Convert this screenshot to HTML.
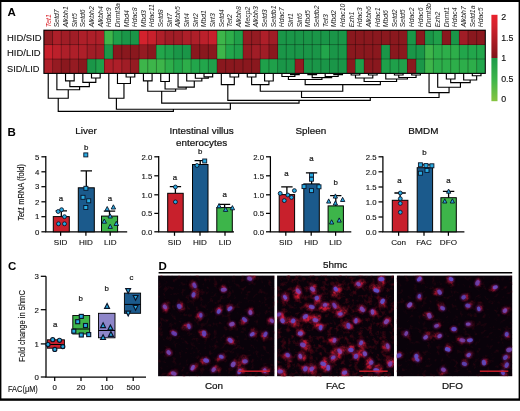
<!DOCTYPE html>
<html><head><meta charset="utf-8"><title>Figure</title>
<style>
html,body{margin:0;padding:0;background:#fff;}
body{width:520px;height:411px;overflow:hidden;}
svg{display:block;font-family:"Liberation Sans", sans-serif;filter:blur(0.3px);}
text{fill:#1a1a1a;}
.g{font-style:italic;font-size:6.9px;fill:#262626;}
.row{font-size:9.3px;fill:#111;stroke:#111;stroke-width:0.12px;}
.pl{font-size:11.5px;font-weight:bold;fill:#000;}
.tt{font-size:9.9px;fill:#111;stroke:#111;stroke-width:0.22px;}
.tk{font-size:7.8px;fill:#111;stroke:#111;stroke-width:0.12px;}
.xl{font-size:8.1px;fill:#111;stroke:#111;stroke-width:0.12px;}
.lt{font-size:7.9px;fill:#1a1a1a;stroke:#1a1a1a;stroke-width:0.22px;}
.cb{font-size:8.8px;fill:#111;stroke:#111;stroke-width:0.15px;}
.ax{stroke:#000;stroke-width:1.25;fill:none;}
.dn{stroke:#000;stroke-width:1.15;fill:none;}
</style></head><body>
<svg width="520" height="411" viewBox="0 0 520 411">
<rect x="0" y="0" width="520" height="411" fill="#fff"/>

<rect x="0" y="0" width="520" height="2" fill="#000"/>
<rect x="0" y="0" width="1.4" height="400" fill="#000"/>
<rect x="518.6" y="0" width="1.4" height="400" fill="#000"/>
<rect x="0" y="398.4" width="520" height="2.4" fill="#000"/>
<text class="pl" x="7.5" y="16.3">A</text>
<g shape-rendering="crispEdges">
<rect x="43.90" y="30.20" width="8.71" height="14.45" fill="#951B22"/>
<rect x="52.55" y="30.20" width="8.71" height="14.45" fill="#AE1F29"/>
<rect x="61.21" y="30.20" width="8.71" height="14.45" fill="#A01D26"/>
<rect x="69.86" y="30.20" width="8.71" height="14.45" fill="#A01D26"/>
<rect x="78.52" y="30.20" width="8.71" height="14.45" fill="#AE1F29"/>
<rect x="87.17" y="30.20" width="8.71" height="14.45" fill="#AE1F29"/>
<rect x="95.83" y="30.20" width="8.71" height="14.45" fill="#AE1F29"/>
<rect x="104.48" y="30.20" width="8.71" height="14.45" fill="#3DB54A"/>
<rect x="113.14" y="30.20" width="8.71" height="14.45" fill="#1FA04A"/>
<rect x="121.79" y="30.20" width="8.71" height="14.45" fill="#1A9648"/>
<rect x="130.45" y="30.20" width="8.71" height="14.45" fill="#1A9648"/>
<rect x="139.10" y="30.20" width="8.71" height="14.45" fill="#D3222D"/>
<rect x="147.76" y="30.20" width="8.71" height="14.45" fill="#C8202C"/>
<rect x="156.41" y="30.20" width="8.71" height="14.45" fill="#AE1F29"/>
<rect x="165.07" y="30.20" width="8.71" height="14.45" fill="#A01D26"/>
<rect x="173.72" y="30.20" width="8.71" height="14.45" fill="#A01D26"/>
<rect x="182.38" y="30.20" width="8.71" height="14.45" fill="#AE1F29"/>
<rect x="191.03" y="30.20" width="8.71" height="14.45" fill="#AE1F29"/>
<rect x="199.69" y="30.20" width="8.71" height="14.45" fill="#BC202B"/>
<rect x="208.34" y="30.20" width="8.71" height="14.45" fill="#C8202C"/>
<rect x="217.00" y="30.20" width="8.71" height="14.45" fill="#3DB54A"/>
<rect x="225.66" y="30.20" width="8.71" height="14.45" fill="#2DAE4A"/>
<rect x="234.31" y="30.20" width="8.71" height="14.45" fill="#1FA04A"/>
<rect x="242.97" y="30.20" width="8.71" height="14.45" fill="#951B22"/>
<rect x="251.62" y="30.20" width="8.71" height="14.45" fill="#951B22"/>
<rect x="260.27" y="30.20" width="8.71" height="14.45" fill="#AE1F29"/>
<rect x="268.93" y="30.20" width="8.71" height="14.45" fill="#A01D26"/>
<rect x="277.58" y="30.20" width="8.71" height="14.45" fill="#1A9648"/>
<rect x="286.24" y="30.20" width="8.71" height="14.45" fill="#1A9648"/>
<rect x="294.89" y="30.20" width="8.71" height="14.45" fill="#1A9648"/>
<rect x="303.55" y="30.20" width="8.71" height="14.45" fill="#1A9648"/>
<rect x="312.20" y="30.20" width="8.71" height="14.45" fill="#1A9648"/>
<rect x="320.86" y="30.20" width="8.71" height="14.45" fill="#1A9648"/>
<rect x="329.51" y="30.20" width="8.71" height="14.45" fill="#1A9648"/>
<rect x="338.17" y="30.20" width="8.71" height="14.45" fill="#1A9648"/>
<rect x="346.82" y="30.20" width="8.71" height="14.45" fill="#8A181E"/>
<rect x="355.48" y="30.20" width="8.71" height="14.45" fill="#8A181E"/>
<rect x="364.13" y="30.20" width="8.71" height="14.45" fill="#8A181E"/>
<rect x="372.79" y="30.20" width="8.71" height="14.45" fill="#8A181E"/>
<rect x="381.44" y="30.20" width="8.71" height="14.45" fill="#8A181E"/>
<rect x="390.10" y="30.20" width="8.71" height="14.45" fill="#8A181E"/>
<rect x="398.75" y="30.20" width="8.71" height="14.45" fill="#8A181E"/>
<rect x="407.41" y="30.20" width="8.71" height="14.45" fill="#1A9648"/>
<rect x="416.06" y="30.20" width="8.71" height="14.45" fill="#8A181E"/>
<rect x="424.72" y="30.20" width="8.71" height="14.45" fill="#1A9648"/>
<rect x="433.37" y="30.20" width="8.71" height="14.45" fill="#1FA04A"/>
<rect x="442.03" y="30.20" width="8.71" height="14.45" fill="#8A181E"/>
<rect x="450.68" y="30.20" width="8.71" height="14.45" fill="#1A9648"/>
<rect x="459.34" y="30.20" width="8.71" height="14.45" fill="#A01D26"/>
<rect x="467.99" y="30.20" width="8.71" height="14.45" fill="#8A181E"/>
<rect x="476.65" y="30.20" width="8.71" height="14.45" fill="#8A181E"/>
<rect x="43.90" y="44.60" width="8.71" height="14.45" fill="#C8202C"/>
<rect x="52.55" y="44.60" width="8.71" height="14.45" fill="#BC202B"/>
<rect x="61.21" y="44.60" width="8.71" height="14.45" fill="#AE1F29"/>
<rect x="69.86" y="44.60" width="8.71" height="14.45" fill="#AE1F29"/>
<rect x="78.52" y="44.60" width="8.71" height="14.45" fill="#AE1F29"/>
<rect x="87.17" y="44.60" width="8.71" height="14.45" fill="#A01D26"/>
<rect x="95.83" y="44.60" width="8.71" height="14.45" fill="#A01D26"/>
<rect x="104.48" y="44.60" width="8.71" height="14.45" fill="#1A9648"/>
<rect x="113.14" y="44.60" width="8.71" height="14.45" fill="#8A181E"/>
<rect x="121.79" y="44.60" width="8.71" height="14.45" fill="#8A181E"/>
<rect x="130.45" y="44.60" width="8.71" height="14.45" fill="#8A181E"/>
<rect x="139.10" y="44.60" width="8.71" height="14.45" fill="#951B22"/>
<rect x="147.76" y="44.60" width="8.71" height="14.45" fill="#8A181E"/>
<rect x="156.41" y="44.60" width="8.71" height="14.45" fill="#22A64B"/>
<rect x="165.07" y="44.60" width="8.71" height="14.45" fill="#1FA04A"/>
<rect x="173.72" y="44.60" width="8.71" height="14.45" fill="#1A9648"/>
<rect x="182.38" y="44.60" width="8.71" height="14.45" fill="#1A9648"/>
<rect x="191.03" y="44.60" width="8.71" height="14.45" fill="#8A181E"/>
<rect x="199.69" y="44.60" width="8.71" height="14.45" fill="#8A181E"/>
<rect x="208.34" y="44.60" width="8.71" height="14.45" fill="#8A181E"/>
<rect x="217.00" y="44.60" width="8.71" height="14.45" fill="#3DB54A"/>
<rect x="225.66" y="44.60" width="8.71" height="14.45" fill="#22A64B"/>
<rect x="234.31" y="44.60" width="8.71" height="14.45" fill="#1FA04A"/>
<rect x="242.97" y="44.60" width="8.71" height="14.45" fill="#951B22"/>
<rect x="251.62" y="44.60" width="8.71" height="14.45" fill="#A01D26"/>
<rect x="260.27" y="44.60" width="8.71" height="14.45" fill="#A01D26"/>
<rect x="268.93" y="44.60" width="8.71" height="14.45" fill="#8A181E"/>
<rect x="277.58" y="44.60" width="8.71" height="14.45" fill="#1A9648"/>
<rect x="286.24" y="44.60" width="8.71" height="14.45" fill="#1A9648"/>
<rect x="294.89" y="44.60" width="8.71" height="14.45" fill="#1A9648"/>
<rect x="303.55" y="44.60" width="8.71" height="14.45" fill="#1A9648"/>
<rect x="312.20" y="44.60" width="8.71" height="14.45" fill="#1A9648"/>
<rect x="320.86" y="44.60" width="8.71" height="14.45" fill="#22A64B"/>
<rect x="329.51" y="44.60" width="8.71" height="14.45" fill="#1A9648"/>
<rect x="338.17" y="44.60" width="8.71" height="14.45" fill="#1A9648"/>
<rect x="346.82" y="44.60" width="8.71" height="14.45" fill="#8A181E"/>
<rect x="355.48" y="44.60" width="8.71" height="14.45" fill="#8A181E"/>
<rect x="364.13" y="44.60" width="8.71" height="14.45" fill="#8A181E"/>
<rect x="372.79" y="44.60" width="8.71" height="14.45" fill="#8A181E"/>
<rect x="381.44" y="44.60" width="8.71" height="14.45" fill="#1A9648"/>
<rect x="390.10" y="44.60" width="8.71" height="14.45" fill="#8A181E"/>
<rect x="398.75" y="44.60" width="8.71" height="14.45" fill="#8A181E"/>
<rect x="407.41" y="44.60" width="8.71" height="14.45" fill="#1A9648"/>
<rect x="416.06" y="44.60" width="8.71" height="14.45" fill="#1A9648"/>
<rect x="424.72" y="44.60" width="8.71" height="14.45" fill="#3DB54A"/>
<rect x="433.37" y="44.60" width="8.71" height="14.45" fill="#2DAE4A"/>
<rect x="442.03" y="44.60" width="8.71" height="14.45" fill="#2DAE4A"/>
<rect x="450.68" y="44.60" width="8.71" height="14.45" fill="#2DAE4A"/>
<rect x="459.34" y="44.60" width="8.71" height="14.45" fill="#22A64B"/>
<rect x="467.99" y="44.60" width="8.71" height="14.45" fill="#22A64B"/>
<rect x="476.65" y="44.60" width="8.71" height="14.45" fill="#22A64B"/>
<rect x="43.90" y="59.00" width="8.71" height="14.45" fill="#AE1F29"/>
<rect x="52.55" y="59.00" width="8.71" height="14.45" fill="#951B22"/>
<rect x="61.21" y="59.00" width="8.71" height="14.45" fill="#8A181E"/>
<rect x="69.86" y="59.00" width="8.71" height="14.45" fill="#951B22"/>
<rect x="78.52" y="59.00" width="8.71" height="14.45" fill="#8A181E"/>
<rect x="87.17" y="59.00" width="8.71" height="14.45" fill="#1A9648"/>
<rect x="95.83" y="59.00" width="8.71" height="14.45" fill="#1FA04A"/>
<rect x="104.48" y="59.00" width="8.71" height="14.45" fill="#AE1F29"/>
<rect x="113.14" y="59.00" width="8.71" height="14.45" fill="#AE1F29"/>
<rect x="121.79" y="59.00" width="8.71" height="14.45" fill="#A01D26"/>
<rect x="130.45" y="59.00" width="8.71" height="14.45" fill="#951B22"/>
<rect x="139.10" y="59.00" width="8.71" height="14.45" fill="#3DB54A"/>
<rect x="147.76" y="59.00" width="8.71" height="14.45" fill="#3DB54A"/>
<rect x="156.41" y="59.00" width="8.71" height="14.45" fill="#3DB54A"/>
<rect x="165.07" y="59.00" width="8.71" height="14.45" fill="#2DAE4A"/>
<rect x="173.72" y="59.00" width="8.71" height="14.45" fill="#22A64B"/>
<rect x="182.38" y="59.00" width="8.71" height="14.45" fill="#2DAE4A"/>
<rect x="191.03" y="59.00" width="8.71" height="14.45" fill="#22A64B"/>
<rect x="199.69" y="59.00" width="8.71" height="14.45" fill="#22A64B"/>
<rect x="208.34" y="59.00" width="8.71" height="14.45" fill="#1FA04A"/>
<rect x="217.00" y="59.00" width="8.71" height="14.45" fill="#8A181E"/>
<rect x="225.66" y="59.00" width="8.71" height="14.45" fill="#8A181E"/>
<rect x="234.31" y="59.00" width="8.71" height="14.45" fill="#8A181E"/>
<rect x="242.97" y="59.00" width="8.71" height="14.45" fill="#8A181E"/>
<rect x="251.62" y="59.00" width="8.71" height="14.45" fill="#8A181E"/>
<rect x="260.27" y="59.00" width="8.71" height="14.45" fill="#1FA04A"/>
<rect x="268.93" y="59.00" width="8.71" height="14.45" fill="#1FA04A"/>
<rect x="277.58" y="59.00" width="8.71" height="14.45" fill="#1A9648"/>
<rect x="286.24" y="59.00" width="8.71" height="14.45" fill="#1A9648"/>
<rect x="294.89" y="59.00" width="8.71" height="14.45" fill="#951B22"/>
<rect x="303.55" y="59.00" width="8.71" height="14.45" fill="#1A9648"/>
<rect x="312.20" y="59.00" width="8.71" height="14.45" fill="#1A9648"/>
<rect x="320.86" y="59.00" width="8.71" height="14.45" fill="#1A9648"/>
<rect x="329.51" y="59.00" width="8.71" height="14.45" fill="#1A9648"/>
<rect x="338.17" y="59.00" width="8.71" height="14.45" fill="#1A9648"/>
<rect x="346.82" y="59.00" width="8.71" height="14.45" fill="#8A181E"/>
<rect x="355.48" y="59.00" width="8.71" height="14.45" fill="#1FA04A"/>
<rect x="364.13" y="59.00" width="8.71" height="14.45" fill="#8A181E"/>
<rect x="372.79" y="59.00" width="8.71" height="14.45" fill="#8A181E"/>
<rect x="381.44" y="59.00" width="8.71" height="14.45" fill="#1FA04A"/>
<rect x="390.10" y="59.00" width="8.71" height="14.45" fill="#1FA04A"/>
<rect x="398.75" y="59.00" width="8.71" height="14.45" fill="#1FA04A"/>
<rect x="407.41" y="59.00" width="8.71" height="14.45" fill="#8A181E"/>
<rect x="416.06" y="59.00" width="8.71" height="14.45" fill="#1A9648"/>
<rect x="424.72" y="59.00" width="8.71" height="14.45" fill="#3DB54A"/>
<rect x="433.37" y="59.00" width="8.71" height="14.45" fill="#2DAE4A"/>
<rect x="442.03" y="59.00" width="8.71" height="14.45" fill="#2DAE4A"/>
<rect x="450.68" y="59.00" width="8.71" height="14.45" fill="#2DAE4A"/>
<rect x="459.34" y="59.00" width="8.71" height="14.45" fill="#2DAE4A"/>
<rect x="467.99" y="59.00" width="8.71" height="14.45" fill="#2DAE4A"/>
<rect x="476.65" y="59.00" width="8.71" height="14.45" fill="#22A64B"/>
</g>
<path d="M52.55 30.2V73.40M61.21 30.2V73.40M69.86 30.2V73.40M78.52 30.2V73.40M87.17 30.2V73.40M95.83 30.2V73.40M104.48 30.2V73.40M113.14 30.2V73.40M121.79 30.2V73.40M130.45 30.2V73.40M139.10 30.2V73.40M147.76 30.2V73.40M156.41 30.2V73.40M165.07 30.2V73.40M173.72 30.2V73.40M182.38 30.2V73.40M191.03 30.2V73.40M199.69 30.2V73.40M208.34 30.2V73.40M217.00 30.2V73.40M225.66 30.2V73.40M234.31 30.2V73.40M242.97 30.2V73.40M251.62 30.2V73.40M260.27 30.2V73.40M268.93 30.2V73.40M277.58 30.2V73.40M286.24 30.2V73.40M294.89 30.2V73.40M303.55 30.2V73.40M312.20 30.2V73.40M320.86 30.2V73.40M329.51 30.2V73.40M338.17 30.2V73.40M346.82 30.2V73.40M355.48 30.2V73.40M364.13 30.2V73.40M372.79 30.2V73.40M381.44 30.2V73.40M390.10 30.2V73.40M398.75 30.2V73.40M407.41 30.2V73.40M416.06 30.2V73.40M424.72 30.2V73.40M433.37 30.2V73.40M442.03 30.2V73.40M450.68 30.2V73.40M459.34 30.2V73.40M467.99 30.2V73.40M476.65 30.2V73.40M43.9 44.60H485.30M43.9 59.00H485.30" stroke="#000" stroke-opacity="0.45" stroke-width="0.7" fill="none"/>
<rect x="43.9" y="30.2" width="441.40" height="43.20" fill="none" stroke="#000" stroke-width="1.1"/>
<text class="g" transform="translate(50.63 27.3) rotate(-90)" style="fill:#d8232a">Tet1</text>
<text class="g" transform="translate(59.28 27.3) rotate(-90)">Setd7</text>
<text class="g" transform="translate(67.94 27.3) rotate(-90)">Alkbh1</text>
<text class="g" transform="translate(76.59 27.3) rotate(-90)">Sirt5</text>
<text class="g" transform="translate(85.25 27.3) rotate(-90)">Setd6</text>
<text class="g" transform="translate(93.90 27.3) rotate(-90)">Alkbh2</text>
<text class="g" transform="translate(102.56 27.3) rotate(-90)">Alkbh4</text>
<text class="g" transform="translate(111.21 27.3) rotate(-90)">Hdac9</text>
<text class="g" transform="translate(119.87 27.3) rotate(-90)">Dnmt3a</text>
<text class="g" transform="translate(128.52 27.3) rotate(-90)">Mbd4</text>
<text class="g" transform="translate(137.18 27.3) rotate(-90)">Hdac8</text>
<text class="g" transform="translate(145.83 27.3) rotate(-90)">Mbd3</text>
<text class="g" transform="translate(154.49 27.3) rotate(-90)">Hdac11</text>
<text class="g" transform="translate(163.14 27.3) rotate(-90)">Setd8</text>
<text class="g" transform="translate(171.80 27.3) rotate(-90)">Sirt7</text>
<text class="g" transform="translate(180.45 27.3) rotate(-90)">Alkbh5</text>
<text class="g" transform="translate(189.11 27.3) rotate(-90)">Sirt4</text>
<text class="g" transform="translate(197.76 27.3) rotate(-90)">Sirt2</text>
<text class="g" transform="translate(206.42 27.3) rotate(-90)">Mbd1</text>
<text class="g" transform="translate(215.07 27.3) rotate(-90)">Sirt3</text>
<text class="g" transform="translate(223.73 27.3) rotate(-90)">Setd4</text>
<text class="g" transform="translate(232.38 27.3) rotate(-90)">Tet2</text>
<text class="g" transform="translate(241.04 27.3) rotate(-90)">Alkbh8</text>
<text class="g" transform="translate(249.69 27.3) rotate(-90)">Mecp2</text>
<text class="g" transform="translate(258.35 27.3) rotate(-90)">Alkbh3</text>
<text class="g" transform="translate(267.00 27.3) rotate(-90)">Setd3</text>
<text class="g" transform="translate(275.66 27.3) rotate(-90)">Setdb1</text>
<text class="g" transform="translate(284.31 27.3) rotate(-90)">Hdac7</text>
<text class="g" transform="translate(292.97 27.3) rotate(-90)">Sirt1</text>
<text class="g" transform="translate(301.62 27.3) rotate(-90)">Sirt6</text>
<text class="g" transform="translate(310.28 27.3) rotate(-90)">Mbd5</text>
<text class="g" transform="translate(318.93 27.3) rotate(-90)">Setdb2</text>
<text class="g" transform="translate(327.59 27.3) rotate(-90)">Tet3</text>
<text class="g" transform="translate(336.24 27.3) rotate(-90)">Mbd2</text>
<text class="g" transform="translate(344.90 27.3) rotate(-90)">Hdac10</text>
<text class="g" transform="translate(353.55 27.3) rotate(-90)">Ezh1</text>
<text class="g" transform="translate(362.21 27.3) rotate(-90)">Hdac3</text>
<text class="g" transform="translate(370.86 27.3) rotate(-90)">Alkbh6</text>
<text class="g" transform="translate(379.52 27.3) rotate(-90)">Hdac1</text>
<text class="g" transform="translate(388.17 27.3) rotate(-90)">Mbd6</text>
<text class="g" transform="translate(396.83 27.3) rotate(-90)">Setd2</text>
<text class="g" transform="translate(405.48 27.3) rotate(-90)">Setd5</text>
<text class="g" transform="translate(414.14 27.3) rotate(-90)">Hdac2</text>
<text class="g" transform="translate(422.79 27.3) rotate(-90)">Hdac6</text>
<text class="g" transform="translate(431.45 27.3) rotate(-90)">Dnmt3b</text>
<text class="g" transform="translate(440.10 27.3) rotate(-90)">Ezh2</text>
<text class="g" transform="translate(448.76 27.3) rotate(-90)">Dnmt1</text>
<text class="g" transform="translate(457.41 27.3) rotate(-90)">Hdac4</text>
<text class="g" transform="translate(466.07 27.3) rotate(-90)">Alkbh7</text>
<text class="g" transform="translate(474.72 27.3) rotate(-90)">Setd1a</text>
<text class="g" transform="translate(483.38 27.3) rotate(-90)">Hdac5</text>
<text class="row" x="7" y="40.8" textLength="34.6" lengthAdjust="spacingAndGlyphs">HID/SID</text>
<text class="row" x="7" y="56.4" textLength="33.6" lengthAdjust="spacingAndGlyphs">HID/LID</text>
<text class="row" x="7" y="72.2" textLength="32.4" lengthAdjust="spacingAndGlyphs">SID/LID</text>
<defs><linearGradient id="cbr" x1="0" y1="0" x2="0" y2="1"><stop offset="0" stop-color="#EA212C"/><stop offset="0.25" stop-color="#D3222D"/><stop offset="1" stop-color="#7E151A"/></linearGradient>
<linearGradient id="cbg" x1="0" y1="0" x2="0" y2="1"><stop offset="0" stop-color="#1C9A49"/><stop offset="0.5" stop-color="#3DB54A"/><stop offset="1" stop-color="#86C440"/></linearGradient></defs>
<rect x="491.4" y="14.8" width="6.1" height="43.2" fill="url(#cbr)"/>
<rect x="491.4" y="58" width="6.1" height="43.2" fill="url(#cbg)"/>
<text class="cb" x="501.2" y="20.3">2</text>
<text class="cb" x="501.2" y="40.8">1.5</text>
<text class="cb" x="501.2" y="61.0">1</text>
<text class="cb" x="501.2" y="81.7">0.5</text>
<text class="cb" x="501.2" y="102.3">0</text>
<path class="dn" d="M65.54 73.40V80.80H74.19V73.40M91.50 73.40V78.00H100.16V73.40M82.85 73.40V82.30H95.83V78.00M69.86 80.80V86.60H89.34V82.30M56.88 73.40V89.70H79.60V86.60M48.23 73.40V98.20H68.24V89.70M126.12 73.40V77.00H134.78V73.40M117.47 73.40V83.50H130.45V77.00M108.81 73.40V98.20H123.96V83.50M143.43 73.40V80.80H152.09V73.40M160.74 73.40V81.50H169.40V73.40M204.02 73.40V76.90H212.67V73.40M195.36 73.40V78.20H208.34V76.90M186.71 73.40V81.00H201.85V78.20M178.05 73.40V87.10H194.28V81.00M165.07 81.50V89.00H186.17V87.10M147.76 80.80V91.20H175.62V89.00M229.98 73.40V77.00H238.64V73.40M221.33 73.40V84.60H234.31V77.00M247.29 73.40V77.00H255.95V73.40M264.60 73.40V81.00H273.26V73.40M251.62 77.00V84.60H268.93V81.00M290.57 73.40V74.60H299.22V73.40M281.91 73.40V76.50H294.89V74.60M307.88 73.40V74.60H316.53V73.40M333.84 73.40V74.60H342.50V73.40M325.19 73.40V76.50H338.17V74.60M312.20 74.60V77.60H331.68V76.50M288.40 76.50V79.50H321.94V77.60M351.15 73.40V75.00H359.81V73.40M368.46 73.40V75.00H377.12V73.40M355.48 75.00V78.00H372.79V75.00M394.43 73.40V75.00H403.08V73.40M411.74 73.40V75.00H420.39V73.40M398.75 75.00V77.50H416.06V75.00M385.77 73.40V79.00H407.41V77.50M364.13 78.00V81.50H396.59V79.00M305.17 79.50V84.60H380.36V81.50M260.27 84.60V91.20H342.77V84.60M446.36 73.40V79.00H455.01V73.40M472.32 73.40V75.70H480.98V73.40M463.67 73.40V80.00H476.65V75.70M450.68 79.00V82.60H470.16V80.00M437.70 73.40V87.20H460.42V82.60M429.05 73.40V92.60H449.06V87.20M301.52 91.20V97.50H439.05V92.60M227.82 84.60V100.40H370.29V97.50M161.69 91.20V103.10H299.05V100.40M116.39 98.20V109.20H230.37V103.10M58.23 98.20V111.30H173.38V109.20"/>
<text class="pl" x="7.6" y="135.8">B</text>
<path class="ax" d="M45.8 156V231.8H127.2"/>
<path class="ax" d="M41.4 156.8H45.8"/>
<text class="tk" x="39.4" y="159.55" text-anchor="end">5</text>
<path class="ax" d="M41.4 171.8H45.8"/>
<text class="tk" x="39.4" y="174.55" text-anchor="end">4</text>
<path class="ax" d="M41.4 186.7H45.8"/>
<text class="tk" x="39.4" y="189.45" text-anchor="end">3</text>
<path class="ax" d="M41.4 201.8H45.8"/>
<text class="tk" x="39.4" y="204.55" text-anchor="end">2</text>
<path class="ax" d="M41.4 216.7H45.8"/>
<text class="tk" x="39.4" y="219.45" text-anchor="end">1</text>
<path class="ax" d="M41.4 231.8H45.8"/>
<text class="tk" x="39.4" y="234.55" text-anchor="end">0</text>
<path d="M61.3 216.6V210.9M55.6 210.9H67.0" stroke="#000" stroke-width="1.3" fill="none"/>
<rect x="53.3" y="216.6" width="16.0" height="15.2" fill="#C8202C" stroke="#000" stroke-width="1"/>
<circle cx="58.2" cy="211.5" r="1.95" fill="#29ABE2" stroke="#0a1428" stroke-width="0.9"/><circle cx="61.6" cy="209.7" r="1.95" fill="#29ABE2" stroke="#0a1428" stroke-width="0.9"/><circle cx="64.5" cy="216.7" r="1.95" fill="#29ABE2" stroke="#0a1428" stroke-width="0.9"/><circle cx="58.5" cy="223.8" r="1.95" fill="#29ABE2" stroke="#0a1428" stroke-width="0.9"/><circle cx="64.5" cy="223.8" r="1.95" fill="#29ABE2" stroke="#0a1428" stroke-width="0.9"/>
<text class="lt" x="61.0" y="200.5" text-anchor="middle">a</text>
<path class="ax" d="M60.6 231.8V235.8"/>
<text class="xl" x="60.6" y="245.2" text-anchor="middle">SID</text>
<path d="M86.3 187.8V170.8M80.6 170.8H92.0" stroke="#000" stroke-width="1.3" fill="none"/>
<rect x="78.3" y="187.8" width="16.0" height="44.0" fill="#1B5A8C" stroke="#000" stroke-width="1"/>
<rect x="83.8" y="152.9" width="4.0" height="4.0" fill="#29ABE2" stroke="#0a1428" stroke-width="0.9"/><rect x="83.9" y="186.3" width="4.0" height="4.0" fill="#29ABE2" stroke="#0a1428" stroke-width="0.9"/><rect x="81.0" y="195.3" width="4.0" height="4.0" fill="#29ABE2" stroke="#0a1428" stroke-width="0.9"/><rect x="86.7" y="198.8" width="4.0" height="4.0" fill="#29ABE2" stroke="#0a1428" stroke-width="0.9"/><rect x="83.8" y="205.5" width="4.0" height="4.0" fill="#29ABE2" stroke="#0a1428" stroke-width="0.9"/>
<text class="lt" x="86.1" y="150.0" text-anchor="middle">b</text>
<path class="ax" d="M85.9 231.8V235.8"/>
<text class="xl" x="85.9" y="245.2" text-anchor="middle">HID</text>
<path d="M109.5 216.1V211.2M103.8 211.2H115.2" stroke="#000" stroke-width="1.3" fill="none"/>
<rect x="101.5" y="216.1" width="16.1" height="15.7" fill="#3DB54A" stroke="#000" stroke-width="1"/>
<path d="M107.2 206.5L109.4 210.7H105.0Z" fill="#29ABE2" stroke="#0a1428" stroke-width="0.9" stroke-linejoin="miter"/><path d="M113.4 204.8L115.6 209.0H111.2Z" fill="#29ABE2" stroke="#0a1428" stroke-width="0.9" stroke-linejoin="miter"/><path d="M110.2 213.8L112.4 218.0H108.0Z" fill="#29ABE2" stroke="#0a1428" stroke-width="0.9" stroke-linejoin="miter"/><path d="M104.3 219.0L106.5 223.2H102.1Z" fill="#29ABE2" stroke="#0a1428" stroke-width="0.9" stroke-linejoin="miter"/><path d="M116.3 221.3L118.5 225.5H114.1Z" fill="#29ABE2" stroke="#0a1428" stroke-width="0.9" stroke-linejoin="miter"/><path d="M110.2 224.2L112.4 228.4H108.0Z" fill="#29ABE2" stroke="#0a1428" stroke-width="0.9" stroke-linejoin="miter"/>
<text class="lt" x="109.9" y="200.5" text-anchor="middle">a</text>
<path class="ax" d="M110.2 231.8V235.8"/>
<text class="xl" x="110.2" y="245.2" text-anchor="middle">LID</text>
<text class="tt" x="86" y="133.9" text-anchor="middle">Liver</text>
<text class="tk" style="font-size:8.7px" transform="translate(24.4 192.5) rotate(-90) scale(0.86 1)" text-anchor="middle"><tspan font-style="italic">Tet1</tspan> mRNA (fold)</text>
<path class="ax" d="M158.7 156V231.8H234"/>
<path class="ax" d="M154.29999999999998 156.8H158.7"/>
<text class="tk" x="152.29999999999998" y="159.55" text-anchor="end">2.0</text>
<path class="ax" d="M154.29999999999998 175.8H158.7"/>
<text class="tk" x="152.29999999999998" y="178.55" text-anchor="end">1.5</text>
<path class="ax" d="M154.29999999999998 194.8H158.7"/>
<text class="tk" x="152.29999999999998" y="197.55" text-anchor="end">1.0</text>
<path class="ax" d="M154.29999999999998 213.4H158.7"/>
<text class="tk" x="152.29999999999998" y="216.15" text-anchor="end">0.5</text>
<path class="ax" d="M154.29999999999998 231.8H158.7"/>
<text class="tk" x="152.29999999999998" y="234.55" text-anchor="end">0.0</text>
<path d="M175.4 193.3V186.7M169.8 186.7H181.1" stroke="#000" stroke-width="1.3" fill="none"/>
<rect x="167.7" y="193.3" width="15.5" height="38.5" fill="#C8202C" stroke="#000" stroke-width="1"/>
<circle cx="175.4" cy="187.0" r="1.95" fill="#29ABE2" stroke="#0a1428" stroke-width="0.9"/><circle cx="175.4" cy="201.9" r="1.95" fill="#29ABE2" stroke="#0a1428" stroke-width="0.9"/>
<text class="lt" x="175.0" y="180.2" text-anchor="middle">a</text>
<path class="ax" d="M174.5 231.8V235.8"/>
<text class="xl" x="174.5" y="245.2" text-anchor="middle">SID</text>
<path d="M200.2 164.5V160.7M194.6 160.7H205.9" stroke="#000" stroke-width="1.3" fill="none"/>
<rect x="192.5" y="164.5" width="15.5" height="67.3" fill="#1B5A8C" stroke="#000" stroke-width="1"/>
<circle cx="197.0" cy="165.5" r="1.95" fill="#29ABE2" stroke="#0a1428" stroke-width="0.9"/><rect x="202.7" y="159.0" width="4.0" height="4.0" fill="#29ABE2" stroke="#0a1428" stroke-width="0.9"/>
<text class="lt" x="200.1" y="154.0" text-anchor="middle">b</text>
<path class="ax" d="M200 231.8V235.8"/>
<text class="xl" x="200" y="245.2" text-anchor="middle">HID</text>
<path d="M224.6 207.6V204.4M218.9 204.4H230.2" stroke="#000" stroke-width="1.3" fill="none"/>
<rect x="216.8" y="207.6" width="15.5" height="24.2" fill="#3DB54A" stroke="#000" stroke-width="1"/>
<path d="M219.0 203.6L221.2 207.8H216.8Z" fill="#29ABE2" stroke="#0a1428" stroke-width="0.9" stroke-linejoin="miter"/><path d="M225.6 207.2L227.8 211.4H223.4Z" fill="#29ABE2" stroke="#0a1428" stroke-width="0.9" stroke-linejoin="miter"/><path d="M232.4 205.6L234.6 209.8H230.2Z" fill="#29ABE2" stroke="#0a1428" stroke-width="0.9" stroke-linejoin="miter"/>
<text class="lt" x="224.8" y="197.0" text-anchor="middle">a</text>
<path class="ax" d="M225 231.8V235.8"/>
<text class="xl" x="225" y="245.2" text-anchor="middle">LID</text>
<text class="tt" x="201.6" y="133.9" text-anchor="middle">Intestinal villus</text>
<text class="tt" x="201.6" y="145.5" text-anchor="middle">enterocytes</text>
<path class="ax" d="M270.4 156.3V231.8H351.3"/>
<path class="ax" d="M266.0 156.8H270.4"/>
<text class="tk" x="264.0" y="159.55" text-anchor="end">2.0</text>
<path class="ax" d="M266.0 175.8H270.4"/>
<text class="tk" x="264.0" y="178.55" text-anchor="end">1.5</text>
<path class="ax" d="M266.0 194.8H270.4"/>
<text class="tk" x="264.0" y="197.55" text-anchor="end">1.0</text>
<path class="ax" d="M266.0 213.4H270.4"/>
<text class="tk" x="264.0" y="216.15" text-anchor="end">0.5</text>
<path class="ax" d="M266.0 231.8H270.4"/>
<text class="tk" x="264.0" y="234.55" text-anchor="end">0.0</text>
<path d="M286.9 194.6V186.8M281.2 186.8H292.6" stroke="#000" stroke-width="1.3" fill="none"/>
<rect x="279.2" y="194.6" width="15.4" height="37.2" fill="#C8202C" stroke="#000" stroke-width="1"/>
<circle cx="280.2" cy="193.4" r="1.95" fill="#29ABE2" stroke="#0a1428" stroke-width="0.9"/><circle cx="284.3" cy="200.6" r="1.95" fill="#29ABE2" stroke="#0a1428" stroke-width="0.9"/><circle cx="287.8" cy="195.0" r="1.95" fill="#29ABE2" stroke="#0a1428" stroke-width="0.9"/><circle cx="291.5" cy="197.4" r="1.95" fill="#29ABE2" stroke="#0a1428" stroke-width="0.9"/><circle cx="294.4" cy="190.6" r="1.95" fill="#29ABE2" stroke="#0a1428" stroke-width="0.9"/>
<text class="lt" x="286.4" y="176.3" text-anchor="middle">a</text>
<path class="ax" d="M285.8 231.8V235.8"/>
<text class="xl" x="285.8" y="245.2" text-anchor="middle">SID</text>
<path d="M311.6 183.9V172.8M305.9 172.8H317.2" stroke="#000" stroke-width="1.3" fill="none"/>
<rect x="303.8" y="183.9" width="15.5" height="47.9" fill="#1B5A8C" stroke="#000" stroke-width="1"/>
<rect x="309.5" y="173.2" width="4.0" height="4.0" fill="#29ABE2" stroke="#0a1428" stroke-width="0.9"/><rect x="309.5" y="177.2" width="4.0" height="4.0" fill="#29ABE2" stroke="#0a1428" stroke-width="0.9"/><rect x="302.0" y="184.6" width="4.0" height="4.0" fill="#29ABE2" stroke="#0a1428" stroke-width="0.9"/><rect x="309.5" y="188.6" width="4.0" height="4.0" fill="#29ABE2" stroke="#0a1428" stroke-width="0.9"/><rect x="317.0" y="184.8" width="4.0" height="4.0" fill="#29ABE2" stroke="#0a1428" stroke-width="0.9"/>
<text class="lt" x="311.4" y="160.9" text-anchor="middle">a</text>
<path class="ax" d="M311.2 231.8V235.8"/>
<text class="xl" x="311.2" y="245.2" text-anchor="middle">HID</text>
<path d="M335.8 205.9V195.6M330.1 195.6H341.4" stroke="#000" stroke-width="1.3" fill="none"/>
<rect x="328.1" y="205.9" width="15.3" height="25.9" fill="#3DB54A" stroke="#000" stroke-width="1"/>
<path d="M335.4 193.9L337.5 198.1H333.2Z" fill="#29ABE2" stroke="#0a1428" stroke-width="0.9" stroke-linejoin="miter"/><path d="M328.7 198.9L330.8 203.1H326.6Z" fill="#29ABE2" stroke="#0a1428" stroke-width="0.9" stroke-linejoin="miter"/><path d="M335.4 200.8L337.5 205.0H333.2Z" fill="#29ABE2" stroke="#0a1428" stroke-width="0.9" stroke-linejoin="miter"/><path d="M342.6 197.3L344.8 201.5H340.5Z" fill="#29ABE2" stroke="#0a1428" stroke-width="0.9" stroke-linejoin="miter"/><path d="M331.6 219.8L333.8 224.0H329.5Z" fill="#29ABE2" stroke="#0a1428" stroke-width="0.9" stroke-linejoin="miter"/><path d="M339.2 217.9L341.3 222.1H337.1Z" fill="#29ABE2" stroke="#0a1428" stroke-width="0.9" stroke-linejoin="miter"/>
<text class="lt" x="335.7" y="185.3" text-anchor="middle">b</text>
<path class="ax" d="M335.6 231.8V235.8"/>
<text class="xl" x="335.6" y="245.2" text-anchor="middle">LID</text>
<text class="tt" x="310.8" y="133.9" text-anchor="middle">Spleen</text>
<path class="ax" d="M382.9 156.3V231.8H464.4"/>
<path class="ax" d="M378.5 156.8H382.9"/>
<text class="tk" x="376.5" y="159.55" text-anchor="end">2.5</text>
<path class="ax" d="M378.5 171.8H382.9"/>
<text class="tk" x="376.5" y="174.55" text-anchor="end">2.0</text>
<path class="ax" d="M378.5 187H382.9"/>
<text class="tk" x="376.5" y="189.75" text-anchor="end">1.5</text>
<path class="ax" d="M378.5 201.9H382.9"/>
<text class="tk" x="376.5" y="204.65" text-anchor="end">1.0</text>
<path class="ax" d="M378.5 217H382.9"/>
<text class="tk" x="376.5" y="219.75" text-anchor="end">0.5</text>
<path class="ax" d="M378.5 231.8H382.9"/>
<text class="tk" x="376.5" y="234.55" text-anchor="end">0.0</text>
<path d="M400.1 200.3V193M394.4 193H405.8" stroke="#000" stroke-width="1.3" fill="none"/>
<rect x="392.3" y="200.3" width="15.6" height="31.5" fill="#C8202C" stroke="#000" stroke-width="1"/>
<circle cx="400.3" cy="193.0" r="1.95" fill="#29ABE2" stroke="#0a1428" stroke-width="0.9"/><circle cx="400.3" cy="198.7" r="1.95" fill="#29ABE2" stroke="#0a1428" stroke-width="0.9"/><circle cx="400.3" cy="203.4" r="1.95" fill="#29ABE2" stroke="#0a1428" stroke-width="0.9"/><circle cx="400.3" cy="212.3" r="1.95" fill="#29ABE2" stroke="#0a1428" stroke-width="0.9"/>
<text class="lt" x="399.4" y="182.7" text-anchor="middle">a</text>
<path class="ax" d="M398.6 231.8V235.8"/>
<text class="xl" x="398.6" y="245.2" text-anchor="middle">Con</text>
<path d="M424.9 167.7V164.8M419.2 164.8H430.6" stroke="#000" stroke-width="1.3" fill="none"/>
<rect x="417.2" y="167.7" width="15.4" height="64.1" fill="#1B5A8C" stroke="#000" stroke-width="1"/>
<rect x="424.0" y="163.6" width="4.0" height="4.0" fill="#29ABE2" stroke="#0a1428" stroke-width="0.9"/><rect x="418.4" y="162.8" width="4.0" height="4.0" fill="#29ABE2" stroke="#0a1428" stroke-width="0.9"/><rect x="429.9" y="163.8" width="4.0" height="4.0" fill="#29ABE2" stroke="#0a1428" stroke-width="0.9"/><rect x="418.4" y="171.2" width="4.0" height="4.0" fill="#29ABE2" stroke="#0a1428" stroke-width="0.9"/><rect x="425.0" y="168.4" width="4.0" height="4.0" fill="#29ABE2" stroke="#0a1428" stroke-width="0.9"/>
<text class="lt" x="424.4" y="154.8" text-anchor="middle">b</text>
<path class="ax" d="M424 231.8V235.8"/>
<text class="xl" x="424" y="245.2" text-anchor="middle">FAC</text>
<path d="M448.6 197.7V191.4M442.9 191.4H454.3" stroke="#000" stroke-width="1.3" fill="none"/>
<rect x="440.9" y="197.7" width="15.4" height="34.1" fill="#3DB54A" stroke="#000" stroke-width="1"/>
<path d="M448.6 189.0L450.8 193.2H446.5Z" fill="#29ABE2" stroke="#0a1428" stroke-width="0.9" stroke-linejoin="miter"/><path d="M444.8 198.8L446.9 203.0H442.7Z" fill="#29ABE2" stroke="#0a1428" stroke-width="0.9" stroke-linejoin="miter"/><path d="M452.4 198.8L454.5 203.0H450.2Z" fill="#29ABE2" stroke="#0a1428" stroke-width="0.9" stroke-linejoin="miter"/>
<text class="lt" x="448.5" y="182.7" text-anchor="middle">a</text>
<path class="ax" d="M448.4 231.8V235.8"/>
<text class="xl" x="448.4" y="245.2" text-anchor="middle">DFO</text>
<text class="tt" x="423.3" y="133.9" text-anchor="middle">BMDM</text>
<text class="pl" x="8" y="269.5">C</text>
<path class="ax" d="M46 276.3V377H146"/>
<path class="ax" d="M40.8 276.3H46"/>
<text class="tk" style="font-size:7.9px" x="39" y="279.1" text-anchor="end">3</text>
<path class="ax" d="M40.8 309.7H46"/>
<text class="tk" style="font-size:7.9px" x="39" y="312.5" text-anchor="end">2</text>
<path class="ax" d="M40.8 343.9H46"/>
<text class="tk" style="font-size:7.9px" x="39" y="346.7" text-anchor="end">1</text>
<path class="ax" d="M40.8 377H46"/>
<text class="tk" style="font-size:7.9px" x="39" y="379.8" text-anchor="end">0</text>
<path class="ax" d="M54.7 377V381"/>
<text class="tk" style="font-size:7.9px" x="54.7" y="390" text-anchor="middle">0</text>
<path class="ax" d="M81 377V381"/>
<text class="tk" style="font-size:7.9px" x="81" y="390" text-anchor="middle">20</text>
<path class="ax" d="M106.8 377V381"/>
<text class="tk" style="font-size:7.9px" x="106.8" y="390" text-anchor="middle">100</text>
<path class="ax" d="M133.2 377V381"/>
<text class="tk" style="font-size:7.9px" x="133.2" y="390" text-anchor="middle">500</text>
<text class="tk" style="font-size:9.3px" x="8" y="391.7" textLength="29.8" lengthAdjust="spacingAndGlyphs">FAC(μM)</text>
<text class="tk" style="font-size:9.4px" transform="translate(24.8 326) rotate(-90)" text-anchor="middle" textLength="71.7" lengthAdjust="spacingAndGlyphs">Fold change in 5hmC</text>
<rect x="47.3" y="339.8" width="17.1" height="8.4" fill="#C8202C" stroke="#000" stroke-width="0.9"/>
<path d="M47.3 344.5H64.4" stroke="#000" stroke-width="1"/>
<circle cx="52.7" cy="339.7" r="2.05" fill="#29ABE2" stroke="#0a1428" stroke-width="1.15"/><circle cx="59.5" cy="340.3" r="2.05" fill="#29ABE2" stroke="#0a1428" stroke-width="1.15"/><circle cx="48.0" cy="344.5" r="2.05" fill="#29ABE2" stroke="#0a1428" stroke-width="1.15"/><circle cx="62.8" cy="346.6" r="2.05" fill="#29ABE2" stroke="#0a1428" stroke-width="1.15"/><circle cx="54.8" cy="349.4" r="2.05" fill="#29ABE2" stroke="#0a1428" stroke-width="1.15"/>
<rect x="72.8" y="315.5" width="16.9" height="18.5" fill="#3DB54A" stroke="#000" stroke-width="0.9"/>
<path d="M72.8 329H89.7" stroke="#000" stroke-width="1"/>
<rect x="79.3" y="314.4" width="4.0" height="4.0" fill="#29ABE2" stroke="#0a1428" stroke-width="1.15"/><rect x="75.7" y="319.7" width="4.0" height="4.0" fill="#29ABE2" stroke="#0a1428" stroke-width="1.15"/><rect x="83.5" y="323.5" width="4.0" height="4.0" fill="#29ABE2" stroke="#0a1428" stroke-width="1.15"/><rect x="71.8" y="329.2" width="4.0" height="4.0" fill="#29ABE2" stroke="#0a1428" stroke-width="1.15"/><rect x="79.3" y="333.0" width="4.0" height="4.0" fill="#29ABE2" stroke="#0a1428" stroke-width="1.15"/><rect x="86.7" y="332.6" width="4.0" height="4.0" fill="#29ABE2" stroke="#0a1428" stroke-width="1.15"/>
<rect x="98.5" y="313.3" width="16.5" height="24.5" fill="#8E86C9" stroke="#000" stroke-width="0.9"/>
<path d="M98.5 330.5H115" stroke="#000" stroke-width="1"/>
<path d="M107.1 303.5L109.5 308.3H104.6Z" fill="#29ABE2" stroke="#0a1428" stroke-width="1.15" stroke-linejoin="miter"/><path d="M103.1 322.8L105.5 327.6H100.6Z" fill="#29ABE2" stroke="#0a1428" stroke-width="1.15" stroke-linejoin="miter"/><path d="M110.4 324.9L112.9 329.7H108.0Z" fill="#29ABE2" stroke="#0a1428" stroke-width="1.15" stroke-linejoin="miter"/><path d="M110.9 331.6L113.4 336.4H108.5Z" fill="#29ABE2" stroke="#0a1428" stroke-width="1.15" stroke-linejoin="miter"/><path d="M103.1 334.7L105.5 339.5H100.6Z" fill="#29ABE2" stroke="#0a1428" stroke-width="1.15" stroke-linejoin="miter"/>
<rect x="124.4" y="293.1" width="16.2" height="20.2" fill="#1B5A8C" stroke="#000" stroke-width="0.9"/>
<path d="M124.4 304.4H140.6" stroke="#000" stroke-width="1"/>
<path d="M128.2 293.4L130.6 288.6H125.7Z" fill="#29ABE2" stroke="#0a1428" stroke-width="1.15"/><path d="M135.6 300.3L138.0 295.5H133.2Z" fill="#29ABE2" stroke="#0a1428" stroke-width="1.15"/><path d="M135.6 310.2L138.0 305.4H133.2Z" fill="#29ABE2" stroke="#0a1428" stroke-width="1.15"/><path d="M128.2 315.9L130.6 311.1H125.7Z" fill="#29ABE2" stroke="#0a1428" stroke-width="1.15"/>
<text class="lt" x="55.2" y="327.0" text-anchor="middle">a</text>
<text class="lt" x="80.8" y="300.8" text-anchor="middle">b</text>
<text class="lt" x="106.6" y="291.4" text-anchor="middle">b</text>
<text class="lt" x="131.4" y="279.6" text-anchor="middle">c</text>
<text class="pl" x="158.5" y="269.5">D</text>
<text class="tt" x="335" y="268.3" text-anchor="middle">5hmc</text>
<path d="M158.6 272.8H512.2" stroke="#000" stroke-width="1.6"/>
<defs>
<filter id="b1" x="-50%" y="-50%" width="200%" height="200%"><feGaussianBlur stdDeviation="0.75"/></filter>
<filter id="b2" x="-50%" y="-50%" width="200%" height="200%"><feGaussianBlur stdDeviation="1.3"/></filter>
<filter id="b3" x="-50%" y="-50%" width="200%" height="200%"><feGaussianBlur stdDeviation="1.8"/></filter>
</defs>
<defs><clipPath id="cp1"><rect x="158.1" y="275.6" width="116.3" height="100.6"/></clipPath>
<filter id="rt1" filterUnits="userSpaceOnUse" x="158.1" y="275.6" width="116.3" height="100.6" color-interpolation-filters="sRGB">
<feGaussianBlur in="SourceAlpha" stdDeviation="1.7" result="m"/>
<feTurbulence type="fractalNoise" baseFrequency="0.26" numOctaves="3" seed="9" result="n"/>
<feColorMatrix in="n" type="matrix" values="0 0 0 0 0.86  0 0 0 0 0.10  0 0 0 0 0.20  2.6 0 0 0 -1.0" result="rn"/>
<feComposite in="rn" in2="m" operator="in"/></filter>
<filter id="bg1" filterUnits="userSpaceOnUse" x="158.1" y="275.6" width="116.3" height="100.6" color-interpolation-filters="sRGB">
<feTurbulence type="fractalNoise" baseFrequency="0.22" numOctaves="3" seed="14" result="n"/>
<feColorMatrix in="n" type="matrix" values="0 0 0 0 0.45  0 0 0 0 0.03  0 0 0 0 0.10  1.0 0 0 0 -0.55"/></filter></defs>
<rect x="158.1" y="275.6" width="116.3" height="100.6" fill="#09020a"/>
<rect x="158.1" y="275.6" width="116.3" height="100.6" filter="url(#bg1)"/>
<g clip-path="url(#cp1)">
<g filter="url(#b3)" fill="#a3142f" opacity="0.4"><ellipse cx="192.9" cy="286.1" rx="3.2" ry="2.8" transform="rotate(58 194.5 285.4)"/><ellipse cx="222.7" cy="289.9" rx="3.1" ry="2.8" transform="rotate(75 223.8 289.7)"/><ellipse cx="247.7" cy="280.1" rx="3.7" ry="2.2" transform="rotate(176 249.7 278.6)"/><ellipse cx="192.1" cy="293.0" rx="4.8" ry="2.8" transform="rotate(103 193.5 294.8)"/><ellipse cx="164.7" cy="306.0" rx="5.0" ry="3.0" transform="rotate(105 164.9 306.9)"/><ellipse cx="179.8" cy="304.5" rx="4.3" ry="2.2" transform="rotate(81 179.3 306.4)"/><ellipse cx="202.1" cy="316.7" rx="3.9" ry="2.5" transform="rotate(100 200.8 315.3)"/><ellipse cx="216.9" cy="312.5" rx="3.8" ry="2.8" transform="rotate(125 218.8 311.5)"/><ellipse cx="229.8" cy="307.2" rx="3.3" ry="2.1" transform="rotate(4 229.9 308.7)"/><ellipse cx="249.0" cy="312.0" rx="3.7" ry="2.2" transform="rotate(89 250.4 312.5)"/><ellipse cx="246.6" cy="318.0" rx="3.4" ry="2.3" transform="rotate(159 244.6 319.6)"/><ellipse cx="232.1" cy="324.6" rx="3.8" ry="2.2" transform="rotate(26 231.9 324.1)"/><ellipse cx="190.9" cy="327.2" rx="4.4" ry="2.6" transform="rotate(157 188.9 326.4)"/><ellipse cx="172.7" cy="332.8" rx="3.1" ry="2.0" transform="rotate(38 174.2 333.5)"/><ellipse cx="203.6" cy="334.1" rx="5.4" ry="2.8" transform="rotate(37 204.1 333.5)"/><ellipse cx="250.4" cy="332.5" rx="3.9" ry="2.4" transform="rotate(87 252.2 334.3)"/><ellipse cx="266.2" cy="336.1" rx="4.9" ry="2.4" transform="rotate(65 265.4 334.3)"/><ellipse cx="231.4" cy="340.5" rx="4.9" ry="2.5" transform="rotate(30 230.2 340.3)"/><ellipse cx="168.7" cy="351.8" rx="3.1" ry="2.0" transform="rotate(41 168.7 352.5)"/><ellipse cx="222.3" cy="356.1" rx="5.4" ry="2.1" transform="rotate(146 221.3 356.8)"/><ellipse cx="207.6" cy="360.5" rx="4.6" ry="3.1" transform="rotate(162 206.1 360.6)"/><ellipse cx="243.7" cy="362.6" rx="3.8" ry="3.1" transform="rotate(86 245.1 361.3)"/><ellipse cx="235.4" cy="362.3" rx="4.5" ry="2.7" transform="rotate(29 233.2 364.4)"/><ellipse cx="192.9" cy="366.0" rx="3.0" ry="3.4" transform="rotate(63 192.7 367.7)"/><ellipse cx="215.4" cy="367.6" rx="3.5" ry="2.7" transform="rotate(35 213.7 369.7)"/><ellipse cx="264.2" cy="370.5" rx="4.5" ry="3.3" transform="rotate(164 264.9 370.7)"/><ellipse cx="174.9" cy="374.0" rx="4.9" ry="2.2" transform="rotate(157 173.7 373.5)"/><ellipse cx="272.2" cy="322.1" rx="3.3" ry="2.8" transform="rotate(93 271.9 320.8)"/><ellipse cx="241.3" cy="369.5" rx="3.8" ry="3.4" transform="rotate(5 239.5 371.5)"/></g>
<g filter="url(#rt1)"><ellipse cx="192.9" cy="286.1" rx="3.2" ry="2.8" transform="rotate(58 194.5 285.4)"/><ellipse cx="222.7" cy="289.9" rx="3.1" ry="2.8" transform="rotate(75 223.8 289.7)"/><ellipse cx="247.7" cy="280.1" rx="3.7" ry="2.2" transform="rotate(176 249.7 278.6)"/><ellipse cx="192.1" cy="293.0" rx="4.8" ry="2.8" transform="rotate(103 193.5 294.8)"/><ellipse cx="164.7" cy="306.0" rx="5.0" ry="3.0" transform="rotate(105 164.9 306.9)"/><ellipse cx="179.8" cy="304.5" rx="4.3" ry="2.2" transform="rotate(81 179.3 306.4)"/><ellipse cx="202.1" cy="316.7" rx="3.9" ry="2.5" transform="rotate(100 200.8 315.3)"/><ellipse cx="216.9" cy="312.5" rx="3.8" ry="2.8" transform="rotate(125 218.8 311.5)"/><ellipse cx="229.8" cy="307.2" rx="3.3" ry="2.1" transform="rotate(4 229.9 308.7)"/><ellipse cx="249.0" cy="312.0" rx="3.7" ry="2.2" transform="rotate(89 250.4 312.5)"/><ellipse cx="246.6" cy="318.0" rx="3.4" ry="2.3" transform="rotate(159 244.6 319.6)"/><ellipse cx="232.1" cy="324.6" rx="3.8" ry="2.2" transform="rotate(26 231.9 324.1)"/><ellipse cx="190.9" cy="327.2" rx="4.4" ry="2.6" transform="rotate(157 188.9 326.4)"/><ellipse cx="172.7" cy="332.8" rx="3.1" ry="2.0" transform="rotate(38 174.2 333.5)"/><ellipse cx="203.6" cy="334.1" rx="5.4" ry="2.8" transform="rotate(37 204.1 333.5)"/><ellipse cx="250.4" cy="332.5" rx="3.9" ry="2.4" transform="rotate(87 252.2 334.3)"/><ellipse cx="266.2" cy="336.1" rx="4.9" ry="2.4" transform="rotate(65 265.4 334.3)"/><ellipse cx="231.4" cy="340.5" rx="4.9" ry="2.5" transform="rotate(30 230.2 340.3)"/><ellipse cx="168.7" cy="351.8" rx="3.1" ry="2.0" transform="rotate(41 168.7 352.5)"/><ellipse cx="222.3" cy="356.1" rx="5.4" ry="2.1" transform="rotate(146 221.3 356.8)"/><ellipse cx="207.6" cy="360.5" rx="4.6" ry="3.1" transform="rotate(162 206.1 360.6)"/><ellipse cx="243.7" cy="362.6" rx="3.8" ry="3.1" transform="rotate(86 245.1 361.3)"/><ellipse cx="235.4" cy="362.3" rx="4.5" ry="2.7" transform="rotate(29 233.2 364.4)"/><ellipse cx="192.9" cy="366.0" rx="3.0" ry="3.4" transform="rotate(63 192.7 367.7)"/><ellipse cx="215.4" cy="367.6" rx="3.5" ry="2.7" transform="rotate(35 213.7 369.7)"/><ellipse cx="264.2" cy="370.5" rx="4.5" ry="3.3" transform="rotate(164 264.9 370.7)"/><ellipse cx="174.9" cy="374.0" rx="4.9" ry="2.2" transform="rotate(157 173.7 373.5)"/><ellipse cx="272.2" cy="322.1" rx="3.3" ry="2.8" transform="rotate(93 271.9 320.8)"/><ellipse cx="241.3" cy="369.5" rx="3.8" ry="3.4" transform="rotate(5 239.5 371.5)"/></g>
<g filter="url(#b2)" fill="#9a2a9c" opacity="0.55"><ellipse cx="194.5" cy="285.4" rx="3.3" ry="2.6" transform="rotate(66 194.5 285.4)"/><ellipse cx="223.8" cy="289.7" rx="3.3" ry="2.6" transform="rotate(171 223.8 289.7)"/><ellipse cx="249.7" cy="278.6" rx="3.3" ry="2.6" transform="rotate(21 249.7 278.6)"/><ellipse cx="193.5" cy="294.8" rx="3.3" ry="2.6" transform="rotate(111 193.5 294.8)"/><ellipse cx="164.9" cy="306.9" rx="3.3" ry="2.6" transform="rotate(44 164.9 306.9)"/><ellipse cx="179.3" cy="306.4" rx="3.3" ry="2.6" transform="rotate(62 179.3 306.4)"/><ellipse cx="200.8" cy="315.3" rx="3.3" ry="2.6" transform="rotate(89 200.8 315.3)"/><ellipse cx="218.8" cy="311.5" rx="3.3" ry="2.6" transform="rotate(123 218.8 311.5)"/><ellipse cx="229.9" cy="308.7" rx="3.3" ry="2.6" transform="rotate(138 229.9 308.7)"/><ellipse cx="250.4" cy="312.5" rx="3.3" ry="2.6" transform="rotate(77 250.4 312.5)"/><ellipse cx="244.6" cy="319.6" rx="3.3" ry="2.6" transform="rotate(42 244.6 319.6)"/><ellipse cx="231.9" cy="324.1" rx="3.3" ry="2.6" transform="rotate(155 231.9 324.1)"/><ellipse cx="188.9" cy="326.4" rx="3.3" ry="2.6" transform="rotate(71 188.9 326.4)"/><ellipse cx="174.2" cy="333.5" rx="3.3" ry="2.6" transform="rotate(27 174.2 333.5)"/><ellipse cx="204.1" cy="333.5" rx="3.3" ry="2.6" transform="rotate(85 204.1 333.5)"/><ellipse cx="252.2" cy="334.3" rx="3.3" ry="2.6" transform="rotate(149 252.2 334.3)"/><ellipse cx="265.4" cy="334.3" rx="3.3" ry="2.6" transform="rotate(116 265.4 334.3)"/><ellipse cx="230.2" cy="340.3" rx="3.3" ry="2.6" transform="rotate(40 230.2 340.3)"/><ellipse cx="168.7" cy="352.5" rx="3.3" ry="2.6" transform="rotate(50 168.7 352.5)"/><ellipse cx="221.3" cy="356.8" rx="3.3" ry="2.6" transform="rotate(18 221.3 356.8)"/><ellipse cx="206.1" cy="360.6" rx="3.3" ry="2.6" transform="rotate(15 206.1 360.6)"/><ellipse cx="245.1" cy="361.3" rx="3.3" ry="2.6" transform="rotate(175 245.1 361.3)"/><ellipse cx="233.2" cy="364.4" rx="3.3" ry="2.6" transform="rotate(118 233.2 364.4)"/><ellipse cx="192.7" cy="367.7" rx="3.3" ry="2.6" transform="rotate(117 192.7 367.7)"/><ellipse cx="213.7" cy="369.7" rx="3.3" ry="2.6" transform="rotate(137 213.7 369.7)"/><ellipse cx="264.9" cy="370.7" rx="3.3" ry="2.6" transform="rotate(76 264.9 370.7)"/><ellipse cx="173.7" cy="373.5" rx="3.3" ry="2.6" transform="rotate(25 173.7 373.5)"/><ellipse cx="271.9" cy="320.8" rx="3.3" ry="2.6" transform="rotate(45 271.9 320.8)"/><ellipse cx="239.5" cy="371.5" rx="3.3" ry="2.6" transform="rotate(109 239.5 371.5)"/></g>
<g filter="url(#b1)" fill="#6352d2" opacity="0.88"><ellipse cx="194.5" cy="285.4" rx="3.0" ry="1.8" transform="rotate(66 194.5 285.4)" fill="#5d50d6" opacity="0.74"/><ellipse cx="223.8" cy="289.7" rx="3.1" ry="2.0" transform="rotate(171 223.8 289.7)" fill="#7452c6" opacity="0.82"/><ellipse cx="249.7" cy="278.6" rx="2.7" ry="2.0" transform="rotate(21 249.7 278.6)" fill="#6f55cc" opacity="0.75"/><ellipse cx="193.5" cy="294.8" rx="2.8" ry="1.9" transform="rotate(111 193.5 294.8)" fill="#5a58d8" opacity="0.80"/><ellipse cx="164.9" cy="306.9" rx="2.5" ry="1.9" transform="rotate(44 164.9 306.9)" fill="#7452c6" opacity="0.81"/><ellipse cx="179.3" cy="306.4" rx="2.6" ry="2.2" transform="rotate(62 179.3 306.4)" fill="#5a58d8" opacity="0.74"/><ellipse cx="200.8" cy="315.3" rx="2.4" ry="1.7" transform="rotate(89 200.8 315.3)" fill="#5a58d8" opacity="0.79"/><ellipse cx="218.8" cy="311.5" rx="2.5" ry="1.9" transform="rotate(123 218.8 311.5)" fill="#5a58d8" opacity="0.89"/><ellipse cx="229.9" cy="308.7" rx="2.9" ry="1.9" transform="rotate(138 229.9 308.7)" fill="#6652d0" opacity="0.96"/><ellipse cx="250.4" cy="312.5" rx="2.5" ry="1.9" transform="rotate(77 250.4 312.5)" fill="#7452c6" opacity="0.81"/><ellipse cx="244.6" cy="319.6" rx="3.0" ry="1.8" transform="rotate(42 244.6 319.6)" fill="#5a58d8" opacity="0.79"/><ellipse cx="231.9" cy="324.1" rx="2.8" ry="2.1" transform="rotate(155 231.9 324.1)" fill="#7452c6" opacity="0.84"/><ellipse cx="188.9" cy="326.4" rx="2.8" ry="1.7" transform="rotate(71 188.9 326.4)" fill="#5a58d8" opacity="0.74"/><ellipse cx="174.2" cy="333.5" rx="3.1" ry="2.0" transform="rotate(27 174.2 333.5)" fill="#5d50d6" opacity="0.74"/><ellipse cx="204.1" cy="333.5" rx="3.0" ry="2.2" transform="rotate(85 204.1 333.5)" fill="#5d50d6" opacity="0.84"/><ellipse cx="252.2" cy="334.3" rx="2.7" ry="1.8" transform="rotate(149 252.2 334.3)" fill="#6652d0" opacity="0.97"/><ellipse cx="265.4" cy="334.3" rx="2.9" ry="1.8" transform="rotate(116 265.4 334.3)" fill="#5d50d6" opacity="0.82"/><ellipse cx="230.2" cy="340.3" rx="2.9" ry="2.1" transform="rotate(40 230.2 340.3)" fill="#6652d0" opacity="0.91"/><ellipse cx="168.7" cy="352.5" rx="2.5" ry="2.0" transform="rotate(50 168.7 352.5)" fill="#6f55cc" opacity="0.81"/><ellipse cx="221.3" cy="356.8" rx="2.5" ry="1.8" transform="rotate(18 221.3 356.8)" fill="#5a58d8" opacity="0.88"/><ellipse cx="206.1" cy="360.6" rx="3.0" ry="2.1" transform="rotate(15 206.1 360.6)" fill="#5d50d6" opacity="0.92"/><ellipse cx="245.1" cy="361.3" rx="2.7" ry="2.1" transform="rotate(175 245.1 361.3)" fill="#5a58d8" opacity="0.74"/><ellipse cx="233.2" cy="364.4" rx="3.0" ry="2.2" transform="rotate(118 233.2 364.4)" fill="#7452c6" opacity="0.89"/><ellipse cx="192.7" cy="367.7" rx="2.9" ry="1.8" transform="rotate(117 192.7 367.7)" fill="#7452c6" opacity="0.98"/><ellipse cx="213.7" cy="369.7" rx="2.5" ry="1.9" transform="rotate(137 213.7 369.7)" fill="#6f55cc" opacity="0.75"/><ellipse cx="264.9" cy="370.7" rx="2.4" ry="1.8" transform="rotate(76 264.9 370.7)" fill="#7452c6" opacity="0.85"/><ellipse cx="173.7" cy="373.5" rx="2.9" ry="2.0" transform="rotate(25 173.7 373.5)" fill="#7452c6" opacity="0.80"/><ellipse cx="271.9" cy="320.8" rx="2.3" ry="1.7" transform="rotate(45 271.9 320.8)" fill="#6f55cc" opacity="0.84"/><ellipse cx="239.5" cy="371.5" rx="2.9" ry="1.9" transform="rotate(109 239.5 371.5)" fill="#6652d0" opacity="0.86"/></g>
</g>
<path d="M238.4 371.2H269.8" stroke="#d21f2b" stroke-width="1.4"/>
<defs><clipPath id="cp2"><rect x="277.1" y="275.6" width="116.9" height="100.6"/></clipPath>
<filter id="rt2" filterUnits="userSpaceOnUse" x="277.1" y="275.6" width="116.9" height="100.6" color-interpolation-filters="sRGB">
<feGaussianBlur in="SourceAlpha" stdDeviation="1.8" result="m"/>
<feTurbulence type="fractalNoise" baseFrequency="0.26" numOctaves="3" seed="16" result="n"/>
<feColorMatrix in="n" type="matrix" values="0 0 0 0 0.86  0 0 0 0 0.10  0 0 0 0 0.20  3.2 0 0 0 -1.2" result="rn"/>
<feComposite in="rn" in2="m" operator="in"/></filter>
<filter id="bg2" filterUnits="userSpaceOnUse" x="277.1" y="275.6" width="116.9" height="100.6" color-interpolation-filters="sRGB">
<feTurbulence type="fractalNoise" baseFrequency="0.22" numOctaves="3" seed="17" result="n"/>
<feColorMatrix in="n" type="matrix" values="0 0 0 0 0.45  0 0 0 0 0.03  0 0 0 0 0.10  1.5 0 0 0 -0.72"/></filter></defs>
<rect x="277.1" y="275.6" width="116.9" height="100.6" fill="#09020a"/>
<rect x="277.1" y="275.6" width="116.9" height="100.6" filter="url(#bg2)"/>
<g clip-path="url(#cp2)">
<g filter="url(#b3)" fill="#a3142f" opacity="0.5"><ellipse cx="300.2" cy="292.1" rx="6.6" ry="3.7" transform="rotate(86 298.3 291.2)"/><ellipse cx="312.0" cy="288.4" rx="5.9" ry="2.9" transform="rotate(75 312.5 289.2)"/><ellipse cx="336.5" cy="287.6" rx="6.6" ry="3.7" transform="rotate(129 335.8 289.2)"/><ellipse cx="357.1" cy="283.8" rx="5.4" ry="2.7" transform="rotate(150 358.5 284.1)"/><ellipse cx="382.2" cy="278.6" rx="5.4" ry="2.7" transform="rotate(83 381.3 279.1)"/><ellipse cx="375.2" cy="288.4" rx="6.2" ry="2.6" transform="rotate(19 376.3 290.5)"/><ellipse cx="285.3" cy="297.4" rx="5.3" ry="2.7" transform="rotate(73 285.1 297.3)"/><ellipse cx="318.1" cy="296.2" rx="6.5" ry="2.3" transform="rotate(114 316.8 298.1)"/><ellipse cx="325.7" cy="302.9" rx="6.0" ry="3.7" transform="rotate(165 325.1 304.9)"/><ellipse cx="335.6" cy="304.7" rx="5.3" ry="2.5" transform="rotate(55 334.5 305.6)"/><ellipse cx="384.7" cy="301.4" rx="4.4" ry="2.9" transform="rotate(91 382.6 301.3)"/><ellipse cx="278.0" cy="313.3" rx="4.4" ry="2.5" transform="rotate(175 278.8 314.5)"/><ellipse cx="309.8" cy="308.0" rx="4.5" ry="2.5" transform="rotate(23 311.7 306.9)"/><ellipse cx="361.4" cy="309.3" rx="4.1" ry="2.9" transform="rotate(44 362.3 309.4)"/><ellipse cx="371.6" cy="311.3" rx="3.6" ry="2.8" transform="rotate(174 372.5 312.0)"/><ellipse cx="284.0" cy="319.3" rx="5.6" ry="2.8" transform="rotate(16 282.6 320.8)"/><ellipse cx="295.0" cy="322.1" rx="5.6" ry="3.4" transform="rotate(28 293.2 320.8)"/><ellipse cx="306.9" cy="318.3" rx="5.7" ry="3.4" transform="rotate(8 305.4 316.5)"/><ellipse cx="338.2" cy="314.8" rx="6.3" ry="3.3" transform="rotate(146 340.3 314.0)"/><ellipse cx="355.5" cy="320.6" rx="3.8" ry="2.2" transform="rotate(173 356.0 320.8)"/><ellipse cx="386.4" cy="321.7" rx="5.8" ry="2.3" transform="rotate(135 386.4 321.6)"/><ellipse cx="314.3" cy="320.7" rx="5.2" ry="3.6" transform="rotate(136 315.5 320.1)"/><ellipse cx="319.0" cy="326.6" rx="6.1" ry="2.7" transform="rotate(14 320.6 327.7)"/><ellipse cx="347.2" cy="325.9" rx="6.0" ry="2.7" transform="rotate(18 348.4 325.9)"/><ellipse cx="300.2" cy="332.6" rx="3.9" ry="3.0" transform="rotate(15 300.3 333.5)"/><ellipse cx="332.7" cy="341.4" rx="4.5" ry="2.8" transform="rotate(13 334.5 340.3)"/><ellipse cx="362.7" cy="342.4" rx="4.1" ry="3.7" transform="rotate(90 361.1 342.9)"/><ellipse cx="304.3" cy="342.7" rx="6.2" ry="3.5" transform="rotate(57 302.8 344.9)"/><ellipse cx="387.2" cy="348.3" rx="5.6" ry="2.8" transform="rotate(67 387.7 346.2)"/><ellipse cx="340.2" cy="349.7" rx="6.9" ry="2.9" transform="rotate(119 339.6 351.2)"/><ellipse cx="350.5" cy="351.6" rx="5.5" ry="2.5" transform="rotate(137 350.9 349.9)"/><ellipse cx="362.9" cy="355.6" rx="4.0" ry="3.0" transform="rotate(52 364.9 353.7)"/><ellipse cx="354.9" cy="356.2" rx="5.9" ry="2.4" transform="rotate(73 356.0 356.3)"/><ellipse cx="289.4" cy="357.2" rx="5.1" ry="2.4" transform="rotate(40 287.7 355.0)"/><ellipse cx="301.7" cy="355.0" rx="3.7" ry="3.6" transform="rotate(66 300.3 356.3)"/><ellipse cx="312.0" cy="368.3" rx="5.9" ry="3.0" transform="rotate(90 311.7 368.9)"/><ellipse cx="322.8" cy="363.0" rx="6.4" ry="3.7" transform="rotate(116 323.1 363.9)"/><ellipse cx="331.0" cy="357.1" rx="6.8" ry="3.5" transform="rotate(106 333.2 357.5)"/><ellipse cx="372.0" cy="364.6" rx="6.1" ry="3.2" transform="rotate(94 371.2 362.6)"/><ellipse cx="390.5" cy="361.8" rx="6.0" ry="3.7" transform="rotate(23 390.2 363.9)"/><ellipse cx="305.5" cy="369.3" rx="4.9" ry="2.6" transform="rotate(13 305.4 368.9)"/><ellipse cx="281.6" cy="370.3" rx="5.4" ry="3.1" transform="rotate(57 280.1 371.5)"/><ellipse cx="345.4" cy="372.4" rx="4.5" ry="3.3" transform="rotate(90 344.6 372.7)"/><ellipse cx="375.8" cy="368.0" rx="4.6" ry="3.6" transform="rotate(65 376.3 370.2)"/><ellipse cx="326.9" cy="368.8" rx="4.6" ry="3.7" transform="rotate(42 328.2 367.7)"/></g>
<g filter="url(#rt2)"><ellipse cx="300.2" cy="292.1" rx="6.6" ry="3.7" transform="rotate(86 298.3 291.2)"/><ellipse cx="312.0" cy="288.4" rx="5.9" ry="2.9" transform="rotate(75 312.5 289.2)"/><ellipse cx="336.5" cy="287.6" rx="6.6" ry="3.7" transform="rotate(129 335.8 289.2)"/><ellipse cx="357.1" cy="283.8" rx="5.4" ry="2.7" transform="rotate(150 358.5 284.1)"/><ellipse cx="382.2" cy="278.6" rx="5.4" ry="2.7" transform="rotate(83 381.3 279.1)"/><ellipse cx="375.2" cy="288.4" rx="6.2" ry="2.6" transform="rotate(19 376.3 290.5)"/><ellipse cx="285.3" cy="297.4" rx="5.3" ry="2.7" transform="rotate(73 285.1 297.3)"/><ellipse cx="318.1" cy="296.2" rx="6.5" ry="2.3" transform="rotate(114 316.8 298.1)"/><ellipse cx="325.7" cy="302.9" rx="6.0" ry="3.7" transform="rotate(165 325.1 304.9)"/><ellipse cx="335.6" cy="304.7" rx="5.3" ry="2.5" transform="rotate(55 334.5 305.6)"/><ellipse cx="384.7" cy="301.4" rx="4.4" ry="2.9" transform="rotate(91 382.6 301.3)"/><ellipse cx="278.0" cy="313.3" rx="4.4" ry="2.5" transform="rotate(175 278.8 314.5)"/><ellipse cx="309.8" cy="308.0" rx="4.5" ry="2.5" transform="rotate(23 311.7 306.9)"/><ellipse cx="361.4" cy="309.3" rx="4.1" ry="2.9" transform="rotate(44 362.3 309.4)"/><ellipse cx="371.6" cy="311.3" rx="3.6" ry="2.8" transform="rotate(174 372.5 312.0)"/><ellipse cx="284.0" cy="319.3" rx="5.6" ry="2.8" transform="rotate(16 282.6 320.8)"/><ellipse cx="295.0" cy="322.1" rx="5.6" ry="3.4" transform="rotate(28 293.2 320.8)"/><ellipse cx="306.9" cy="318.3" rx="5.7" ry="3.4" transform="rotate(8 305.4 316.5)"/><ellipse cx="338.2" cy="314.8" rx="6.3" ry="3.3" transform="rotate(146 340.3 314.0)"/><ellipse cx="355.5" cy="320.6" rx="3.8" ry="2.2" transform="rotate(173 356.0 320.8)"/><ellipse cx="386.4" cy="321.7" rx="5.8" ry="2.3" transform="rotate(135 386.4 321.6)"/><ellipse cx="314.3" cy="320.7" rx="5.2" ry="3.6" transform="rotate(136 315.5 320.1)"/><ellipse cx="319.0" cy="326.6" rx="6.1" ry="2.7" transform="rotate(14 320.6 327.7)"/><ellipse cx="347.2" cy="325.9" rx="6.0" ry="2.7" transform="rotate(18 348.4 325.9)"/><ellipse cx="300.2" cy="332.6" rx="3.9" ry="3.0" transform="rotate(15 300.3 333.5)"/><ellipse cx="332.7" cy="341.4" rx="4.5" ry="2.8" transform="rotate(13 334.5 340.3)"/><ellipse cx="362.7" cy="342.4" rx="4.1" ry="3.7" transform="rotate(90 361.1 342.9)"/><ellipse cx="304.3" cy="342.7" rx="6.2" ry="3.5" transform="rotate(57 302.8 344.9)"/><ellipse cx="387.2" cy="348.3" rx="5.6" ry="2.8" transform="rotate(67 387.7 346.2)"/><ellipse cx="340.2" cy="349.7" rx="6.9" ry="2.9" transform="rotate(119 339.6 351.2)"/><ellipse cx="350.5" cy="351.6" rx="5.5" ry="2.5" transform="rotate(137 350.9 349.9)"/><ellipse cx="362.9" cy="355.6" rx="4.0" ry="3.0" transform="rotate(52 364.9 353.7)"/><ellipse cx="354.9" cy="356.2" rx="5.9" ry="2.4" transform="rotate(73 356.0 356.3)"/><ellipse cx="289.4" cy="357.2" rx="5.1" ry="2.4" transform="rotate(40 287.7 355.0)"/><ellipse cx="301.7" cy="355.0" rx="3.7" ry="3.6" transform="rotate(66 300.3 356.3)"/><ellipse cx="312.0" cy="368.3" rx="5.9" ry="3.0" transform="rotate(90 311.7 368.9)"/><ellipse cx="322.8" cy="363.0" rx="6.4" ry="3.7" transform="rotate(116 323.1 363.9)"/><ellipse cx="331.0" cy="357.1" rx="6.8" ry="3.5" transform="rotate(106 333.2 357.5)"/><ellipse cx="372.0" cy="364.6" rx="6.1" ry="3.2" transform="rotate(94 371.2 362.6)"/><ellipse cx="390.5" cy="361.8" rx="6.0" ry="3.7" transform="rotate(23 390.2 363.9)"/><ellipse cx="305.5" cy="369.3" rx="4.9" ry="2.6" transform="rotate(13 305.4 368.9)"/><ellipse cx="281.6" cy="370.3" rx="5.4" ry="3.1" transform="rotate(57 280.1 371.5)"/><ellipse cx="345.4" cy="372.4" rx="4.5" ry="3.3" transform="rotate(90 344.6 372.7)"/><ellipse cx="375.8" cy="368.0" rx="4.6" ry="3.6" transform="rotate(65 376.3 370.2)"/><ellipse cx="326.9" cy="368.8" rx="4.6" ry="3.7" transform="rotate(42 328.2 367.7)"/></g>
<g filter="url(#b2)" fill="#9a2a9c" opacity="0.55"><ellipse cx="298.3" cy="291.2" rx="3.3" ry="2.6" transform="rotate(47 298.3 291.2)"/><ellipse cx="312.5" cy="289.2" rx="3.3" ry="2.6" transform="rotate(38 312.5 289.2)"/><ellipse cx="335.8" cy="289.2" rx="3.3" ry="2.6" transform="rotate(40 335.8 289.2)"/><ellipse cx="358.5" cy="284.1" rx="3.3" ry="2.6" transform="rotate(35 358.5 284.1)"/><ellipse cx="381.3" cy="279.1" rx="3.3" ry="2.6" transform="rotate(173 381.3 279.1)"/><ellipse cx="376.3" cy="290.5" rx="3.3" ry="2.6" transform="rotate(23 376.3 290.5)"/><ellipse cx="285.1" cy="297.3" rx="3.3" ry="2.6" transform="rotate(50 285.1 297.3)"/><ellipse cx="316.8" cy="298.1" rx="3.3" ry="2.6" transform="rotate(155 316.8 298.1)"/><ellipse cx="325.1" cy="304.9" rx="3.3" ry="2.6" transform="rotate(174 325.1 304.9)"/><ellipse cx="334.5" cy="305.6" rx="3.3" ry="2.6" transform="rotate(62 334.5 305.6)"/><ellipse cx="382.6" cy="301.3" rx="3.3" ry="2.6" transform="rotate(118 382.6 301.3)"/><ellipse cx="278.8" cy="314.5" rx="3.3" ry="2.6" transform="rotate(159 278.8 314.5)"/><ellipse cx="311.7" cy="306.9" rx="3.3" ry="2.6" transform="rotate(15 311.7 306.9)"/><ellipse cx="362.3" cy="309.4" rx="3.3" ry="2.6" transform="rotate(47 362.3 309.4)"/><ellipse cx="372.5" cy="312.0" rx="3.3" ry="2.6" transform="rotate(85 372.5 312.0)"/><ellipse cx="282.6" cy="320.8" rx="3.3" ry="2.6" transform="rotate(54 282.6 320.8)"/><ellipse cx="293.2" cy="320.8" rx="3.3" ry="2.6" transform="rotate(130 293.2 320.8)"/><ellipse cx="305.4" cy="316.5" rx="3.3" ry="2.6" transform="rotate(146 305.4 316.5)"/><ellipse cx="340.3" cy="314.0" rx="3.3" ry="2.6" transform="rotate(172 340.3 314.0)"/><ellipse cx="356.0" cy="320.8" rx="3.3" ry="2.6" transform="rotate(96 356.0 320.8)"/><ellipse cx="386.4" cy="321.6" rx="3.3" ry="2.6" transform="rotate(133 386.4 321.6)"/><ellipse cx="315.5" cy="320.1" rx="3.3" ry="2.6" transform="rotate(14 315.5 320.1)"/><ellipse cx="320.6" cy="327.7" rx="3.3" ry="2.6" transform="rotate(102 320.6 327.7)"/><ellipse cx="348.4" cy="325.9" rx="3.3" ry="2.6" transform="rotate(84 348.4 325.9)"/><ellipse cx="300.3" cy="333.5" rx="3.3" ry="2.6" transform="rotate(179 300.3 333.5)"/><ellipse cx="334.5" cy="340.3" rx="3.3" ry="2.6" transform="rotate(109 334.5 340.3)"/><ellipse cx="361.1" cy="342.9" rx="3.3" ry="2.6" transform="rotate(123 361.1 342.9)"/><ellipse cx="302.8" cy="344.9" rx="3.3" ry="2.6" transform="rotate(22 302.8 344.9)"/><ellipse cx="387.7" cy="346.2" rx="3.3" ry="2.6" transform="rotate(77 387.7 346.2)"/><ellipse cx="339.6" cy="351.2" rx="3.3" ry="2.6" transform="rotate(57 339.6 351.2)"/><ellipse cx="350.9" cy="349.9" rx="3.3" ry="2.6" transform="rotate(15 350.9 349.9)"/><ellipse cx="364.9" cy="353.7" rx="3.3" ry="2.6" transform="rotate(62 364.9 353.7)"/><ellipse cx="356.0" cy="356.3" rx="3.3" ry="2.6" transform="rotate(116 356.0 356.3)"/><ellipse cx="287.7" cy="355.0" rx="3.3" ry="2.6" transform="rotate(35 287.7 355.0)"/><ellipse cx="300.3" cy="356.3" rx="3.3" ry="2.6" transform="rotate(69 300.3 356.3)"/><ellipse cx="311.7" cy="368.9" rx="3.3" ry="2.6" transform="rotate(142 311.7 368.9)"/><ellipse cx="323.1" cy="363.9" rx="3.3" ry="2.6" transform="rotate(23 323.1 363.9)"/><ellipse cx="333.2" cy="357.5" rx="3.3" ry="2.6" transform="rotate(154 333.2 357.5)"/><ellipse cx="371.2" cy="362.6" rx="3.3" ry="2.6" transform="rotate(138 371.2 362.6)"/><ellipse cx="390.2" cy="363.9" rx="3.3" ry="2.6" transform="rotate(113 390.2 363.9)"/><ellipse cx="305.4" cy="368.9" rx="3.3" ry="2.6" transform="rotate(108 305.4 368.9)"/><ellipse cx="280.1" cy="371.5" rx="3.3" ry="2.6" transform="rotate(5 280.1 371.5)"/><ellipse cx="344.6" cy="372.7" rx="3.3" ry="2.6" transform="rotate(167 344.6 372.7)"/><ellipse cx="376.3" cy="370.2" rx="3.3" ry="2.6" transform="rotate(12 376.3 370.2)"/><ellipse cx="328.2" cy="367.7" rx="3.3" ry="2.6" transform="rotate(89 328.2 367.7)"/></g>
<g filter="url(#b1)" fill="#6352d2" opacity="0.88"><ellipse cx="298.3" cy="291.2" rx="3.0" ry="1.8" transform="rotate(47 298.3 291.2)" fill="#7452c6" opacity="0.84"/><ellipse cx="312.5" cy="289.2" rx="2.9" ry="2.1" transform="rotate(38 312.5 289.2)" fill="#6f55cc" opacity="0.76"/><ellipse cx="335.8" cy="289.2" rx="2.6" ry="1.9" transform="rotate(40 335.8 289.2)" fill="#5d50d6" opacity="0.98"/><ellipse cx="358.5" cy="284.1" rx="2.4" ry="1.9" transform="rotate(35 358.5 284.1)" fill="#6f55cc" opacity="0.81"/><ellipse cx="381.3" cy="279.1" rx="3.1" ry="2.1" transform="rotate(173 381.3 279.1)" fill="#5d50d6" opacity="0.97"/><ellipse cx="376.3" cy="290.5" rx="3.0" ry="2.0" transform="rotate(23 376.3 290.5)" fill="#5a58d8" opacity="0.97"/><ellipse cx="285.1" cy="297.3" rx="2.6" ry="1.7" transform="rotate(50 285.1 297.3)" fill="#6652d0" opacity="0.96"/><ellipse cx="316.8" cy="298.1" rx="2.3" ry="2.2" transform="rotate(155 316.8 298.1)" fill="#5a58d8" opacity="0.83"/><ellipse cx="325.1" cy="304.9" rx="2.3" ry="1.8" transform="rotate(174 325.1 304.9)" fill="#6f55cc" opacity="0.80"/><ellipse cx="334.5" cy="305.6" rx="3.1" ry="1.7" transform="rotate(62 334.5 305.6)" fill="#5d50d6" opacity="0.72"/><ellipse cx="382.6" cy="301.3" rx="2.8" ry="2.0" transform="rotate(118 382.6 301.3)" fill="#5a58d8" opacity="0.95"/><ellipse cx="278.8" cy="314.5" rx="2.6" ry="1.9" transform="rotate(159 278.8 314.5)" fill="#6652d0" opacity="0.73"/><ellipse cx="311.7" cy="306.9" rx="3.0" ry="2.0" transform="rotate(15 311.7 306.9)" fill="#5a58d8" opacity="0.79"/><ellipse cx="362.3" cy="309.4" rx="3.1" ry="2.0" transform="rotate(47 362.3 309.4)" fill="#6f55cc" opacity="0.78"/><ellipse cx="372.5" cy="312.0" rx="2.8" ry="1.8" transform="rotate(85 372.5 312.0)" fill="#7452c6" opacity="0.92"/><ellipse cx="282.6" cy="320.8" rx="2.4" ry="2.2" transform="rotate(54 282.6 320.8)" fill="#6652d0" opacity="0.94"/><ellipse cx="293.2" cy="320.8" rx="2.4" ry="2.1" transform="rotate(130 293.2 320.8)" fill="#5a58d8" opacity="0.89"/><ellipse cx="305.4" cy="316.5" rx="3.0" ry="2.1" transform="rotate(146 305.4 316.5)" fill="#6652d0" opacity="0.87"/><ellipse cx="340.3" cy="314.0" rx="2.4" ry="1.7" transform="rotate(172 340.3 314.0)" fill="#6652d0" opacity="0.89"/><ellipse cx="356.0" cy="320.8" rx="2.7" ry="1.7" transform="rotate(96 356.0 320.8)" fill="#6652d0" opacity="0.93"/><ellipse cx="386.4" cy="321.6" rx="2.9" ry="2.1" transform="rotate(133 386.4 321.6)" fill="#6f55cc" opacity="0.78"/><ellipse cx="315.5" cy="320.1" rx="2.9" ry="2.0" transform="rotate(14 315.5 320.1)" fill="#6f55cc" opacity="0.89"/><ellipse cx="320.6" cy="327.7" rx="2.7" ry="1.9" transform="rotate(102 320.6 327.7)" fill="#5d50d6" opacity="0.97"/><ellipse cx="348.4" cy="325.9" rx="3.1" ry="2.0" transform="rotate(84 348.4 325.9)" fill="#5d50d6" opacity="0.80"/><ellipse cx="300.3" cy="333.5" rx="2.6" ry="2.2" transform="rotate(179 300.3 333.5)" fill="#6f55cc" opacity="0.96"/><ellipse cx="334.5" cy="340.3" rx="2.5" ry="1.8" transform="rotate(109 334.5 340.3)" fill="#7452c6" opacity="0.81"/><ellipse cx="361.1" cy="342.9" rx="2.5" ry="1.8" transform="rotate(123 361.1 342.9)" fill="#5a58d8" opacity="0.81"/><ellipse cx="302.8" cy="344.9" rx="2.9" ry="2.2" transform="rotate(22 302.8 344.9)" fill="#6652d0" opacity="0.80"/><ellipse cx="387.7" cy="346.2" rx="3.0" ry="1.8" transform="rotate(77 387.7 346.2)" fill="#6f55cc" opacity="0.73"/><ellipse cx="339.6" cy="351.2" rx="2.9" ry="1.9" transform="rotate(57 339.6 351.2)" fill="#6f55cc" opacity="0.73"/><ellipse cx="350.9" cy="349.9" rx="2.7" ry="2.1" transform="rotate(15 350.9 349.9)" fill="#5a58d8" opacity="0.89"/><ellipse cx="364.9" cy="353.7" rx="2.5" ry="2.1" transform="rotate(62 364.9 353.7)" fill="#6f55cc" opacity="0.89"/><ellipse cx="356.0" cy="356.3" rx="2.5" ry="2.2" transform="rotate(116 356.0 356.3)" fill="#5d50d6" opacity="0.85"/><ellipse cx="287.7" cy="355.0" rx="2.4" ry="2.0" transform="rotate(35 287.7 355.0)" fill="#5d50d6" opacity="0.80"/><ellipse cx="300.3" cy="356.3" rx="2.5" ry="1.8" transform="rotate(69 300.3 356.3)" fill="#7452c6" opacity="0.92"/><ellipse cx="311.7" cy="368.9" rx="2.4" ry="2.1" transform="rotate(142 311.7 368.9)" fill="#6652d0" opacity="0.82"/><ellipse cx="323.1" cy="363.9" rx="2.9" ry="2.1" transform="rotate(23 323.1 363.9)" fill="#5a58d8" opacity="0.84"/><ellipse cx="333.2" cy="357.5" rx="2.5" ry="1.8" transform="rotate(154 333.2 357.5)" fill="#5a58d8" opacity="0.76"/><ellipse cx="371.2" cy="362.6" rx="2.4" ry="2.1" transform="rotate(138 371.2 362.6)" fill="#5a58d8" opacity="0.72"/><ellipse cx="390.2" cy="363.9" rx="2.8" ry="2.0" transform="rotate(113 390.2 363.9)" fill="#7452c6" opacity="0.75"/><ellipse cx="305.4" cy="368.9" rx="2.7" ry="2.2" transform="rotate(108 305.4 368.9)" fill="#5d50d6" opacity="0.79"/><ellipse cx="280.1" cy="371.5" rx="2.9" ry="1.9" transform="rotate(5 280.1 371.5)" fill="#5a58d8" opacity="0.73"/><ellipse cx="344.6" cy="372.7" rx="2.7" ry="2.0" transform="rotate(167 344.6 372.7)" fill="#6652d0" opacity="0.91"/><ellipse cx="376.3" cy="370.2" rx="3.1" ry="1.9" transform="rotate(12 376.3 370.2)" fill="#5a58d8" opacity="0.93"/><ellipse cx="328.2" cy="367.7" rx="3.0" ry="1.9" transform="rotate(89 328.2 367.7)" fill="#6652d0" opacity="0.96"/></g>
</g>
<path d="M359.2 371.2H387.7" stroke="#d21f2b" stroke-width="1.4"/>
<defs><clipPath id="cp3"><rect x="396.9" y="275.6" width="115.3" height="100.6"/></clipPath>
<filter id="rt3" filterUnits="userSpaceOnUse" x="396.9" y="275.6" width="115.3" height="100.6" color-interpolation-filters="sRGB">
<feGaussianBlur in="SourceAlpha" stdDeviation="1.7" result="m"/>
<feTurbulence type="fractalNoise" baseFrequency="0.26" numOctaves="3" seed="23" result="n"/>
<feColorMatrix in="n" type="matrix" values="0 0 0 0 0.86  0 0 0 0 0.10  0 0 0 0 0.20  2.2 0 0 0 -0.95" result="rn"/>
<feComposite in="rn" in2="m" operator="in"/></filter>
<filter id="bg3" filterUnits="userSpaceOnUse" x="396.9" y="275.6" width="115.3" height="100.6" color-interpolation-filters="sRGB">
<feTurbulence type="fractalNoise" baseFrequency="0.22" numOctaves="3" seed="20" result="n"/>
<feColorMatrix in="n" type="matrix" values="0 0 0 0 0.45  0 0 0 0 0.03  0 0 0 0 0.10  0.9 0 0 0 -0.52"/></filter></defs>
<rect x="396.9" y="275.6" width="115.3" height="100.6" fill="#09020a"/>
<rect x="396.9" y="275.6" width="115.3" height="100.6" filter="url(#bg3)"/>
<g clip-path="url(#cp3)">
<g filter="url(#b3)" fill="#a3142f" opacity="0.33"><ellipse cx="419.7" cy="298.1" rx="2.9" ry="1.8" transform="rotate(10 419.3 296.3)"/><ellipse cx="441.3" cy="293.3" rx="5.0" ry="3.1" transform="rotate(162 439.6 292.2)"/><ellipse cx="452.0" cy="280.6" rx="5.0" ry="2.4" transform="rotate(56 451.0 279.1)"/><ellipse cx="465.7" cy="296.0" rx="3.6" ry="3.0" transform="rotate(22 463.6 297.3)"/><ellipse cx="477.3" cy="282.1" rx="4.4" ry="2.5" transform="rotate(97 477.5 282.9)"/><ellipse cx="493.3" cy="289.0" rx="3.4" ry="2.8" transform="rotate(6 495.3 287.2)"/><ellipse cx="410.8" cy="305.7" rx="4.8" ry="2.2" transform="rotate(8 409.7 304.9)"/><ellipse cx="428.3" cy="315.7" rx="4.9" ry="3.1" transform="rotate(4 429.4 315.8)"/><ellipse cx="440.4" cy="310.1" rx="3.5" ry="2.8" transform="rotate(89 442.6 308.2)"/><ellipse cx="466.1" cy="304.3" rx="4.5" ry="2.1" transform="rotate(141 467.9 305.6)"/><ellipse cx="477.1" cy="307.1" rx="4.2" ry="2.1" transform="rotate(77 478.8 308.9)"/><ellipse cx="503.7" cy="310.9" rx="4.5" ry="2.9" transform="rotate(160 504.9 310.7)"/><ellipse cx="435.2" cy="324.8" rx="3.3" ry="2.0" transform="rotate(133 436.5 325.9)"/><ellipse cx="454.1" cy="329.8" rx="3.0" ry="2.4" transform="rotate(44 454.0 329.2)"/><ellipse cx="466.2" cy="323.2" rx="3.1" ry="2.1" transform="rotate(165 468.2 324.1)"/><ellipse cx="406.6" cy="334.7" rx="4.3" ry="1.8" transform="rotate(32 406.2 333.5)"/><ellipse cx="427.8" cy="335.3" rx="4.4" ry="3.1" transform="rotate(8 425.6 337.3)"/><ellipse cx="437.5" cy="336.0" rx="3.9" ry="2.4" transform="rotate(14 439.6 336.0)"/><ellipse cx="461.3" cy="342.5" rx="4.3" ry="2.4" transform="rotate(72 462.4 340.3)"/><ellipse cx="471.3" cy="341.0" rx="3.7" ry="2.4" transform="rotate(138 469.9 340.3)"/><ellipse cx="508.3" cy="334.1" rx="3.2" ry="1.8" transform="rotate(73 506.7 334.3)"/><ellipse cx="446.1" cy="348.5" rx="3.9" ry="3.1" transform="rotate(91 447.7 349.4)"/><ellipse cx="417.8" cy="354.3" rx="4.8" ry="2.2" transform="rotate(54 416.3 356.3)"/><ellipse cx="417.9" cy="361.1" rx="4.2" ry="2.7" transform="rotate(160 417.3 359.6)"/><ellipse cx="398.0" cy="353.9" rx="3.3" ry="2.8" transform="rotate(93 398.6 355.5)"/><ellipse cx="467.9" cy="354.5" rx="3.8" ry="3.0" transform="rotate(120 468.7 355.0)"/><ellipse cx="483.9" cy="361.2" rx="2.8" ry="3.2" transform="rotate(66 483.9 362.6)"/><ellipse cx="464.3" cy="362.1" rx="3.1" ry="2.4" transform="rotate(32 464.4 363.9)"/><ellipse cx="507.2" cy="356.7" rx="4.4" ry="1.9" transform="rotate(23 505.4 357.5)"/><ellipse cx="509.7" cy="350.8" rx="3.0" ry="2.0" transform="rotate(12 509.2 349.9)"/><ellipse cx="445.3" cy="367.8" rx="3.6" ry="2.9" transform="rotate(142 443.4 369.7)"/><ellipse cx="504.7" cy="371.5" rx="3.4" ry="2.5" transform="rotate(90 502.9 372.7)"/><ellipse cx="418.6" cy="278.5" rx="4.5" ry="2.2" transform="rotate(50 419.3 279.1)"/><ellipse cx="507.0" cy="366.8" rx="3.0" ry="3.2" transform="rotate(100 506.7 365.1)"/></g>
<g filter="url(#rt3)"><ellipse cx="419.7" cy="298.1" rx="2.9" ry="1.8" transform="rotate(10 419.3 296.3)"/><ellipse cx="441.3" cy="293.3" rx="5.0" ry="3.1" transform="rotate(162 439.6 292.2)"/><ellipse cx="452.0" cy="280.6" rx="5.0" ry="2.4" transform="rotate(56 451.0 279.1)"/><ellipse cx="465.7" cy="296.0" rx="3.6" ry="3.0" transform="rotate(22 463.6 297.3)"/><ellipse cx="477.3" cy="282.1" rx="4.4" ry="2.5" transform="rotate(97 477.5 282.9)"/><ellipse cx="493.3" cy="289.0" rx="3.4" ry="2.8" transform="rotate(6 495.3 287.2)"/><ellipse cx="410.8" cy="305.7" rx="4.8" ry="2.2" transform="rotate(8 409.7 304.9)"/><ellipse cx="428.3" cy="315.7" rx="4.9" ry="3.1" transform="rotate(4 429.4 315.8)"/><ellipse cx="440.4" cy="310.1" rx="3.5" ry="2.8" transform="rotate(89 442.6 308.2)"/><ellipse cx="466.1" cy="304.3" rx="4.5" ry="2.1" transform="rotate(141 467.9 305.6)"/><ellipse cx="477.1" cy="307.1" rx="4.2" ry="2.1" transform="rotate(77 478.8 308.9)"/><ellipse cx="503.7" cy="310.9" rx="4.5" ry="2.9" transform="rotate(160 504.9 310.7)"/><ellipse cx="435.2" cy="324.8" rx="3.3" ry="2.0" transform="rotate(133 436.5 325.9)"/><ellipse cx="454.1" cy="329.8" rx="3.0" ry="2.4" transform="rotate(44 454.0 329.2)"/><ellipse cx="466.2" cy="323.2" rx="3.1" ry="2.1" transform="rotate(165 468.2 324.1)"/><ellipse cx="406.6" cy="334.7" rx="4.3" ry="1.8" transform="rotate(32 406.2 333.5)"/><ellipse cx="427.8" cy="335.3" rx="4.4" ry="3.1" transform="rotate(8 425.6 337.3)"/><ellipse cx="437.5" cy="336.0" rx="3.9" ry="2.4" transform="rotate(14 439.6 336.0)"/><ellipse cx="461.3" cy="342.5" rx="4.3" ry="2.4" transform="rotate(72 462.4 340.3)"/><ellipse cx="471.3" cy="341.0" rx="3.7" ry="2.4" transform="rotate(138 469.9 340.3)"/><ellipse cx="508.3" cy="334.1" rx="3.2" ry="1.8" transform="rotate(73 506.7 334.3)"/><ellipse cx="446.1" cy="348.5" rx="3.9" ry="3.1" transform="rotate(91 447.7 349.4)"/><ellipse cx="417.8" cy="354.3" rx="4.8" ry="2.2" transform="rotate(54 416.3 356.3)"/><ellipse cx="417.9" cy="361.1" rx="4.2" ry="2.7" transform="rotate(160 417.3 359.6)"/><ellipse cx="398.0" cy="353.9" rx="3.3" ry="2.8" transform="rotate(93 398.6 355.5)"/><ellipse cx="467.9" cy="354.5" rx="3.8" ry="3.0" transform="rotate(120 468.7 355.0)"/><ellipse cx="483.9" cy="361.2" rx="2.8" ry="3.2" transform="rotate(66 483.9 362.6)"/><ellipse cx="464.3" cy="362.1" rx="3.1" ry="2.4" transform="rotate(32 464.4 363.9)"/><ellipse cx="507.2" cy="356.7" rx="4.4" ry="1.9" transform="rotate(23 505.4 357.5)"/><ellipse cx="509.7" cy="350.8" rx="3.0" ry="2.0" transform="rotate(12 509.2 349.9)"/><ellipse cx="445.3" cy="367.8" rx="3.6" ry="2.9" transform="rotate(142 443.4 369.7)"/><ellipse cx="504.7" cy="371.5" rx="3.4" ry="2.5" transform="rotate(90 502.9 372.7)"/><ellipse cx="418.6" cy="278.5" rx="4.5" ry="2.2" transform="rotate(50 419.3 279.1)"/><ellipse cx="507.0" cy="366.8" rx="3.0" ry="3.2" transform="rotate(100 506.7 365.1)"/></g>
<g filter="url(#b2)" fill="#9a2a9c" opacity="0.55"><ellipse cx="419.3" cy="296.3" rx="3.3" ry="2.6" transform="rotate(107 419.3 296.3)"/><ellipse cx="439.6" cy="292.2" rx="3.3" ry="2.6" transform="rotate(59 439.6 292.2)"/><ellipse cx="451.0" cy="279.1" rx="3.3" ry="2.6" transform="rotate(20 451.0 279.1)"/><ellipse cx="463.6" cy="297.3" rx="3.3" ry="2.6" transform="rotate(148 463.6 297.3)"/><ellipse cx="477.5" cy="282.9" rx="3.3" ry="2.6" transform="rotate(114 477.5 282.9)"/><ellipse cx="495.3" cy="287.2" rx="3.3" ry="2.6" transform="rotate(162 495.3 287.2)"/><ellipse cx="409.7" cy="304.9" rx="3.3" ry="2.6" transform="rotate(130 409.7 304.9)"/><ellipse cx="429.4" cy="315.8" rx="3.3" ry="2.6" transform="rotate(70 429.4 315.8)"/><ellipse cx="442.6" cy="308.2" rx="3.3" ry="2.6" transform="rotate(27 442.6 308.2)"/><ellipse cx="467.9" cy="305.6" rx="3.3" ry="2.6" transform="rotate(12 467.9 305.6)"/><ellipse cx="478.8" cy="308.9" rx="3.3" ry="2.6" transform="rotate(76 478.8 308.9)"/><ellipse cx="504.9" cy="310.7" rx="3.3" ry="2.6" transform="rotate(140 504.9 310.7)"/><ellipse cx="436.5" cy="325.9" rx="3.3" ry="2.6" transform="rotate(159 436.5 325.9)"/><ellipse cx="454.0" cy="329.2" rx="3.3" ry="2.6" transform="rotate(7 454.0 329.2)"/><ellipse cx="468.2" cy="324.1" rx="3.3" ry="2.6" transform="rotate(175 468.2 324.1)"/><ellipse cx="406.2" cy="333.5" rx="3.3" ry="2.6" transform="rotate(115 406.2 333.5)"/><ellipse cx="425.6" cy="337.3" rx="3.3" ry="2.6" transform="rotate(147 425.6 337.3)"/><ellipse cx="439.6" cy="336.0" rx="3.3" ry="2.6" transform="rotate(143 439.6 336.0)"/><ellipse cx="462.4" cy="340.3" rx="3.3" ry="2.6" transform="rotate(9 462.4 340.3)"/><ellipse cx="469.9" cy="340.3" rx="3.3" ry="2.6" transform="rotate(170 469.9 340.3)"/><ellipse cx="506.7" cy="334.3" rx="3.3" ry="2.6" transform="rotate(99 506.7 334.3)"/><ellipse cx="447.7" cy="349.4" rx="3.3" ry="2.6" transform="rotate(20 447.7 349.4)"/><ellipse cx="416.3" cy="356.3" rx="3.3" ry="2.6" transform="rotate(109 416.3 356.3)"/><ellipse cx="417.3" cy="359.6" rx="3.3" ry="2.6" transform="rotate(35 417.3 359.6)"/><ellipse cx="398.6" cy="355.5" rx="3.3" ry="2.6" transform="rotate(162 398.6 355.5)"/><ellipse cx="468.7" cy="355.0" rx="3.3" ry="2.6" transform="rotate(140 468.7 355.0)"/><ellipse cx="483.9" cy="362.6" rx="3.3" ry="2.6" transform="rotate(84 483.9 362.6)"/><ellipse cx="464.4" cy="363.9" rx="3.3" ry="2.6" transform="rotate(17 464.4 363.9)"/><ellipse cx="505.4" cy="357.5" rx="3.3" ry="2.6" transform="rotate(135 505.4 357.5)"/><ellipse cx="509.2" cy="349.9" rx="3.3" ry="2.6" transform="rotate(159 509.2 349.9)"/><ellipse cx="443.4" cy="369.7" rx="3.3" ry="2.6" transform="rotate(29 443.4 369.7)"/><ellipse cx="502.9" cy="372.7" rx="3.3" ry="2.6" transform="rotate(57 502.9 372.7)"/><ellipse cx="419.3" cy="279.1" rx="3.3" ry="2.6" transform="rotate(138 419.3 279.1)"/><ellipse cx="506.7" cy="365.1" rx="3.3" ry="2.6" transform="rotate(113 506.7 365.1)"/></g>
<g filter="url(#b1)" fill="#6352d2" opacity="0.88"><ellipse cx="419.3" cy="296.3" rx="2.3" ry="1.7" transform="rotate(107 419.3 296.3)" fill="#5a58d8" opacity="0.82"/><ellipse cx="439.6" cy="292.2" rx="2.8" ry="2.0" transform="rotate(59 439.6 292.2)" fill="#6652d0" opacity="0.84"/><ellipse cx="451.0" cy="279.1" rx="2.5" ry="1.9" transform="rotate(20 451.0 279.1)" fill="#5d50d6" opacity="0.97"/><ellipse cx="463.6" cy="297.3" rx="2.4" ry="2.1" transform="rotate(148 463.6 297.3)" fill="#5a58d8" opacity="0.77"/><ellipse cx="477.5" cy="282.9" rx="2.9" ry="2.1" transform="rotate(114 477.5 282.9)" fill="#6652d0" opacity="0.73"/><ellipse cx="495.3" cy="287.2" rx="2.6" ry="1.9" transform="rotate(162 495.3 287.2)" fill="#6f55cc" opacity="0.97"/><ellipse cx="409.7" cy="304.9" rx="3.0" ry="2.0" transform="rotate(130 409.7 304.9)" fill="#7452c6" opacity="0.97"/><ellipse cx="429.4" cy="315.8" rx="3.0" ry="2.1" transform="rotate(70 429.4 315.8)" fill="#6f55cc" opacity="0.75"/><ellipse cx="442.6" cy="308.2" rx="2.6" ry="1.9" transform="rotate(27 442.6 308.2)" fill="#6652d0" opacity="0.81"/><ellipse cx="467.9" cy="305.6" rx="2.7" ry="2.0" transform="rotate(12 467.9 305.6)" fill="#5d50d6" opacity="0.76"/><ellipse cx="478.8" cy="308.9" rx="2.4" ry="1.8" transform="rotate(76 478.8 308.9)" fill="#5a58d8" opacity="0.84"/><ellipse cx="504.9" cy="310.7" rx="2.5" ry="2.0" transform="rotate(140 504.9 310.7)" fill="#6f55cc" opacity="0.82"/><ellipse cx="436.5" cy="325.9" rx="2.5" ry="1.7" transform="rotate(159 436.5 325.9)" fill="#7452c6" opacity="0.79"/><ellipse cx="454.0" cy="329.2" rx="2.7" ry="2.1" transform="rotate(7 454.0 329.2)" fill="#5d50d6" opacity="0.94"/><ellipse cx="468.2" cy="324.1" rx="2.5" ry="1.7" transform="rotate(175 468.2 324.1)" fill="#7452c6" opacity="0.85"/><ellipse cx="406.2" cy="333.5" rx="2.6" ry="1.7" transform="rotate(115 406.2 333.5)" fill="#7452c6" opacity="0.81"/><ellipse cx="425.6" cy="337.3" rx="2.6" ry="1.9" transform="rotate(147 425.6 337.3)" fill="#6f55cc" opacity="0.88"/><ellipse cx="439.6" cy="336.0" rx="2.4" ry="2.0" transform="rotate(143 439.6 336.0)" fill="#7452c6" opacity="0.89"/><ellipse cx="462.4" cy="340.3" rx="3.0" ry="1.9" transform="rotate(9 462.4 340.3)" fill="#7452c6" opacity="0.72"/><ellipse cx="469.9" cy="340.3" rx="3.0" ry="1.9" transform="rotate(170 469.9 340.3)" fill="#5a58d8" opacity="0.93"/><ellipse cx="506.7" cy="334.3" rx="2.4" ry="2.0" transform="rotate(99 506.7 334.3)" fill="#5a58d8" opacity="0.82"/><ellipse cx="447.7" cy="349.4" rx="2.9" ry="2.1" transform="rotate(20 447.7 349.4)" fill="#5a58d8" opacity="0.93"/><ellipse cx="416.3" cy="356.3" rx="2.4" ry="2.1" transform="rotate(109 416.3 356.3)" fill="#5a58d8" opacity="0.90"/><ellipse cx="417.3" cy="359.6" rx="2.4" ry="1.8" transform="rotate(35 417.3 359.6)" fill="#5a58d8" opacity="0.82"/><ellipse cx="398.6" cy="355.5" rx="3.0" ry="2.1" transform="rotate(162 398.6 355.5)" fill="#5d50d6" opacity="0.89"/><ellipse cx="468.7" cy="355.0" rx="2.5" ry="1.8" transform="rotate(140 468.7 355.0)" fill="#5a58d8" opacity="0.82"/><ellipse cx="483.9" cy="362.6" rx="2.9" ry="2.1" transform="rotate(84 483.9 362.6)" fill="#5a58d8" opacity="0.84"/><ellipse cx="464.4" cy="363.9" rx="2.7" ry="2.0" transform="rotate(17 464.4 363.9)" fill="#5a58d8" opacity="0.73"/><ellipse cx="505.4" cy="357.5" rx="2.8" ry="2.1" transform="rotate(135 505.4 357.5)" fill="#5a58d8" opacity="0.73"/><ellipse cx="509.2" cy="349.9" rx="3.1" ry="2.2" transform="rotate(159 509.2 349.9)" fill="#6f55cc" opacity="0.76"/><ellipse cx="443.4" cy="369.7" rx="2.5" ry="2.1" transform="rotate(29 443.4 369.7)" fill="#7452c6" opacity="0.76"/><ellipse cx="502.9" cy="372.7" rx="2.5" ry="1.9" transform="rotate(57 502.9 372.7)" fill="#5d50d6" opacity="0.89"/><ellipse cx="419.3" cy="279.1" rx="2.8" ry="1.9" transform="rotate(138 419.3 279.1)" fill="#5d50d6" opacity="0.95"/><ellipse cx="506.7" cy="365.1" rx="2.9" ry="1.9" transform="rotate(113 506.7 365.1)" fill="#5a58d8" opacity="0.82"/></g>
</g>
<path d="M479.8 371.2H508.3" stroke="#d21f2b" stroke-width="1.4"/>
<text class="tt" x="214" y="389.4" text-anchor="middle">Con</text>
<text class="tt" x="335.5" y="389.4" text-anchor="middle">FAC</text>
<text class="tt" x="452.4" y="389.4" text-anchor="middle">DFO</text>
</svg></body></html>
